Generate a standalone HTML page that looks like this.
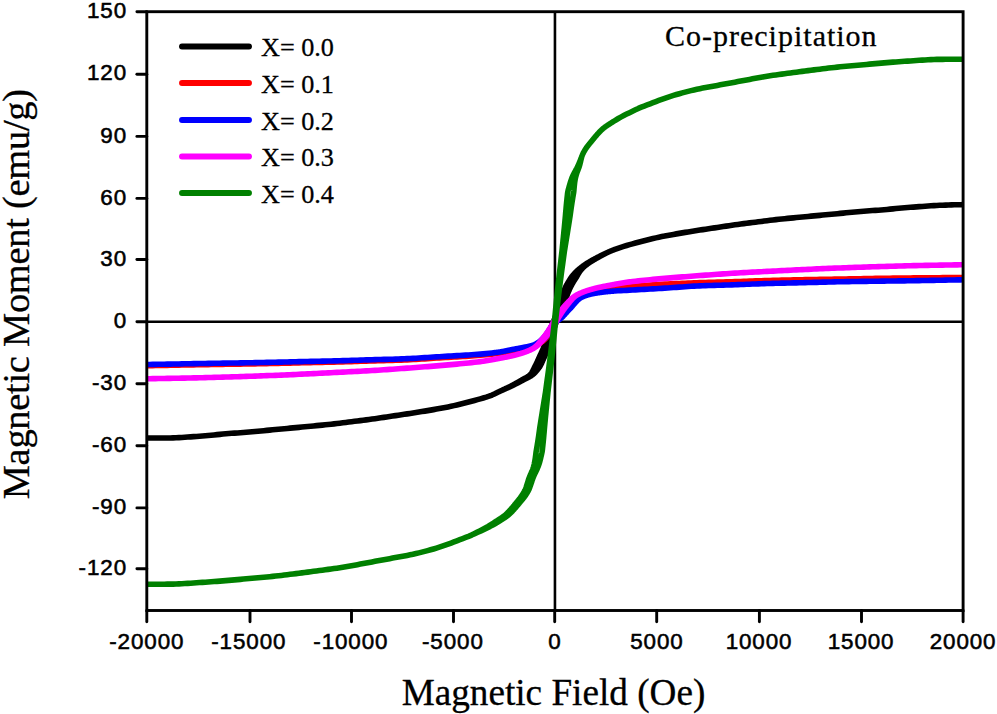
<!DOCTYPE html>
<html><head><meta charset="utf-8"><style>
html,body{margin:0;padding:0;background:#fff;}
body{width:997px;height:714px;overflow:hidden;}
svg{display:block;}
#w{width:997px;height:714px;}
.s{font-family:"Liberation Sans",sans-serif;}
.r{font-family:"Liberation Serif",serif;stroke:#000;stroke-width:0.3px;}
</style></head><body><div id="w">
<svg width="997" height="714" viewBox="0 0 997 714">
<rect width="997" height="714" fill="#fff"/>

<defs><clipPath id="c"><rect x="146.8" y="11.7" width="816.3" height="598.8"/></clipPath></defs>
<g stroke="#000" stroke-width="2.6" fill="none">
<line x1="146.8" y1="321.75" x2="963.1" y2="321.75"/>
<line x1="554.95" y1="11.7" x2="554.95" y2="610.5"/>
</g>
<g clip-path="url(#c)" fill="none" stroke-width="5.6" stroke-linejoin="round" stroke-linecap="round">
<path stroke="#000000" d="M963.15 204.66 L960.22 204.70 L957.30 204.75 L954.37 204.82 L951.45 204.90 L948.52 204.99 L945.59 205.09 L942.67 205.20 L939.74 205.31 L936.82 205.43 L933.89 205.59 L930.96 205.78 L928.04 205.98 L925.11 206.20 L922.19 206.42 L919.26 206.64 L916.33 206.86 L913.41 207.09 L910.48 207.32 L907.56 207.57 L904.63 207.81 L901.70 208.06 L898.78 208.32 L895.85 208.58 L892.92 208.86 L890.00 209.14 L887.07 209.42 L884.15 209.69 L881.22 209.95 L878.29 210.18 L875.37 210.38 L872.44 210.58 L869.52 210.79 L866.59 211.02 L863.66 211.26 L860.74 211.51 L857.81 211.77 L854.89 212.03 L851.96 212.29 L849.03 212.56 L846.11 212.83 L843.18 213.12 L840.26 213.40 L837.33 213.69 L834.40 213.98 L831.48 214.27 L828.55 214.54 L825.63 214.81 L822.70 215.08 L819.77 215.35 L816.85 215.61 L813.92 215.88 L811.00 216.15 L808.07 216.43 L805.14 216.72 L802.22 217.01 L799.29 217.30 L796.37 217.58 L793.44 217.85 L790.51 218.13 L787.59 218.40 L784.66 218.68 L781.73 218.98 L778.81 219.29 L775.88 219.62 L772.96 219.96 L770.03 220.32 L767.10 220.69 L764.18 221.06 L761.25 221.44 L758.33 221.80 L755.40 222.17 L752.47 222.53 L749.55 222.90 L746.62 223.27 L743.70 223.65 L740.77 224.04 L737.84 224.44 L734.92 224.85 L731.99 225.28 L729.07 225.70 L726.14 226.13 L723.21 226.56 L720.29 226.99 L717.36 227.42 L714.44 227.86 L711.51 228.30 L708.58 228.74 L705.66 229.17 L702.73 229.61 L699.81 230.05 L696.88 230.50 L693.95 230.95 L691.03 231.41 L688.10 231.89 L685.18 232.37 L682.25 232.87 L679.32 233.37 L676.40 233.88 L673.47 234.41 L670.54 234.94 L667.62 235.48 L664.69 236.04 L661.77 236.62 L658.84 237.23 L655.91 237.88 L652.99 238.57 L650.06 239.28 L647.14 240.00 L644.21 240.73 L641.28 241.49 L638.36 242.26 L635.43 243.05 L632.51 243.85 L629.58 244.68 L626.65 245.54 L623.73 246.41 L620.80 247.33 L617.88 248.33 L614.95 249.38 L614.70 249.47 L614.45 249.57 L614.20 249.66 L613.95 249.76 L613.70 249.85 L613.45 249.95 L613.20 250.05 L612.95 250.14 L612.70 250.24 L612.45 250.34 L612.20 250.44 L611.95 250.54 L611.70 250.64 L611.45 250.74 L611.20 250.84 L610.95 250.95 L610.70 251.05 L610.45 251.15 L610.20 251.26 L609.95 251.36 L609.70 251.47 L609.45 251.58 L609.20 251.69 L608.95 251.80 L608.69 251.91 L608.43 252.02 L608.17 252.13 L607.92 252.24 L607.66 252.36 L607.40 252.47 L607.14 252.59 L606.89 252.70 L606.63 252.82 L606.37 252.94 L606.11 253.06 L605.85 253.18 L605.60 253.30 L605.34 253.42 L605.08 253.54 L604.82 253.67 L604.56 253.79 L604.31 253.91 L604.05 254.04 L603.79 254.17 L603.53 254.29 L603.27 254.42 L603.01 254.55 L602.76 254.67 L602.50 254.80 L602.24 254.93 L601.98 255.06 L601.72 255.19 L601.46 255.32 L601.20 255.45 L600.94 255.59 L600.69 255.72 L600.43 255.85 L600.17 255.98 L599.91 256.12 L599.65 256.25 L599.39 256.38 L599.13 256.52 L598.87 256.65 L598.61 256.79 L598.36 256.92 L598.10 257.05 L597.84 257.19 L597.58 257.32 L597.32 257.46 L597.06 257.59 L596.80 257.73 L596.54 257.86 L596.28 258.00 L596.02 258.13 L595.77 258.27 L595.51 258.41 L595.25 258.54 L594.99 258.68 L594.73 258.82 L594.47 258.96 L594.21 259.10 L593.95 259.24 L593.69 259.38 L593.43 259.52 L593.17 259.66 L592.91 259.80 L592.65 259.95 L592.39 260.09 L592.13 260.23 L591.87 260.38 L591.61 260.53 L591.36 260.67 L591.10 260.82 L590.84 260.97 L590.58 261.12 L590.32 261.27 L590.06 261.42 L589.80 261.57 L589.53 261.73 L589.27 261.88 L589.01 262.04 L588.75 262.20 L588.49 262.35 L588.23 262.51 L587.97 262.67 L587.71 262.84 L587.45 263.00 L587.19 263.16 L586.93 263.33 L586.67 263.50 L586.41 263.66 L586.14 263.84 L585.88 264.01 L585.62 264.18 L585.36 264.35 L585.10 264.53 L584.84 264.71 L584.57 264.89 L584.31 265.07 L584.05 265.25 L583.79 265.43 L583.53 265.62 L583.26 265.81 L583.00 266.00 L582.74 266.20 L582.47 266.40 L582.21 266.60 L581.94 266.80 L581.66 267.01 L581.38 267.22 L581.10 267.43 L580.81 267.65 L580.53 267.87 L580.25 268.10 L579.96 268.33 L579.68 268.56 L579.39 268.79 L579.11 269.04 L578.82 269.28 L578.53 269.53 L578.25 269.78 L577.96 270.04 L577.67 270.30 L577.38 270.57 L577.09 270.85 L576.79 271.13 L576.50 271.41 L576.21 271.71 L575.91 272.01 L575.62 272.31 L575.32 272.62 L575.02 272.94 L574.72 273.26 L574.43 273.58 L574.13 273.91 L573.83 274.25 L573.52 274.59 L573.22 274.94 L572.92 275.29 L572.62 275.64 L572.31 276.00 L572.01 276.36 L571.70 276.73 L571.45 277.10 L571.20 277.48 L570.95 277.86 L570.70 278.24 L570.45 278.63 L570.20 279.01 L569.95 279.41 L569.70 279.80 L569.45 280.20 L569.20 280.61 L568.95 281.01 L568.70 281.42 L568.45 281.84 L568.20 282.26 L567.95 282.69 L567.70 283.12 L567.45 283.56 L567.20 284.01 L566.95 284.46 L566.70 284.92 L566.45 285.39 L566.20 285.86 L565.95 286.35 L565.70 286.84 L565.45 287.34 L565.20 287.86 L564.95 288.38 L564.70 288.91 L564.45 289.46 L564.20 290.01 L563.95 290.58 L563.70 291.16 L563.45 291.75 L563.22 292.37 L562.99 293.05 L562.77 293.76 L562.54 294.51 L562.32 295.28 L562.09 296.07 L561.87 296.87 L561.65 297.67 L561.42 298.47 L561.20 299.25 L560.98 300.01 L560.75 300.75 L560.52 301.47 L560.30 302.18 L560.07 302.89 L559.84 303.60 L559.62 304.30 L559.39 304.99 L559.16 305.69 L558.94 306.38 L558.71 307.06 L558.48 307.75 L558.26 308.42 L558.03 309.10 L557.80 309.77 L557.57 310.43 L557.34 311.09 L557.12 311.75 L556.89 312.40 L556.66 313.05 L556.43 313.70 L556.20 314.34 L555.97 314.98 L555.75 315.61 L555.52 316.24 L555.29 316.87 L555.06 317.50 L554.83 318.12 L554.60 318.73 L554.37 319.34 L554.14 319.95 L553.91 320.55 L553.68 321.15 L553.45 321.75 L553.18 322.31 L552.91 322.88 L552.64 323.47 L552.37 324.07 L552.10 324.69 L551.83 325.32 L551.56 325.96 L551.29 326.61 L551.02 327.28 L550.74 327.95 L550.47 328.64 L550.20 329.33 L549.92 330.04 L549.65 330.75 L549.38 331.48 L549.10 332.25 L548.82 333.04 L548.55 333.85 L548.27 334.67 L547.99 335.50 L547.71 336.33 L547.44 337.15 L547.16 337.96 L546.88 338.75 L546.61 339.53 L546.33 340.33 L546.05 341.12 L545.78 341.91 L545.50 342.70 L545.23 343.48 L544.95 344.25 L544.67 345.00 L544.40 345.73 L544.13 346.44 L543.85 347.12 L543.58 347.77 L543.31 348.40 L543.04 349.02 L542.77 349.63 L542.50 350.22 L542.23 350.80 L541.96 351.37 L541.70 351.94 L541.45 352.49 L541.20 353.04 L540.95 353.58 L540.70 354.12 L540.45 354.66 L540.20 355.20 L539.95 355.73 L539.70 356.27 L539.45 356.81 L539.20 357.36 L538.95 357.91 L538.70 358.47 L538.45 359.03 L538.20 359.60 L537.95 360.16 L537.70 360.73 L537.45 361.29 L537.20 361.85 L536.95 362.40 L536.70 362.95 L536.45 363.48 L536.20 364.01 L535.95 364.52 L535.70 365.02 L535.45 365.50 L535.20 365.96 L534.95 366.41 L534.71 366.83 L534.52 367.25 L534.34 367.66 L534.15 368.07 L533.96 368.47 L533.77 368.87 L533.58 369.27 L533.39 369.66 L533.19 370.04 L533.00 370.41 L532.80 370.78 L532.61 371.14 L532.41 371.50 L532.21 371.84 L532.01 372.17 L531.81 372.50 L531.61 372.81 L531.40 373.11 L531.20 373.40 L530.99 373.68 L530.78 373.95 L530.57 374.20 L530.35 374.44 L530.14 374.66 L529.92 374.88 L529.70 375.08 L529.48 375.28 L529.26 375.47 L529.04 375.65 L528.81 375.83 L528.59 376.01 L528.36 376.18 L528.14 376.34 L527.91 376.50 L527.69 376.66 L527.45 376.81 L527.21 376.96 L526.97 377.10 L526.73 377.24 L526.49 377.38 L526.25 377.52 L526.01 377.65 L525.77 377.79 L525.53 377.92 L525.29 378.05 L525.05 378.18 L524.80 378.30 L524.56 378.43 L524.32 378.56 L524.08 378.69 L523.84 378.81 L523.60 378.94 L523.35 379.07 L523.11 379.20 L522.87 379.34 L522.63 379.47 L522.39 379.61 L522.15 379.75 L521.91 379.89 L521.67 380.03 L521.43 380.17 L521.19 380.31 L520.95 380.45 L520.71 380.59 L520.47 380.73 L520.22 380.87 L519.98 381.01 L519.74 381.15 L519.50 381.29 L519.26 381.42 L519.02 381.56 L518.78 381.70 L518.54 381.84 L518.30 381.97 L518.06 382.11 L517.82 382.25 L517.58 382.38 L517.33 382.52 L517.09 382.65 L516.85 382.79 L516.61 382.92 L516.37 383.05 L516.13 383.19 L515.89 383.32 L515.65 383.45 L515.41 383.59 L515.16 383.72 L514.92 383.85 L514.68 383.98 L514.44 384.11 L514.20 384.24 L513.96 384.37 L513.72 384.50 L513.48 384.63 L513.23 384.76 L512.99 384.89 L512.75 385.02 L512.51 385.14 L512.27 385.27 L512.03 385.40 L511.78 385.52 L511.54 385.65 L511.30 385.78 L511.06 385.90 L510.82 386.03 L510.58 386.15 L510.33 386.27 L510.09 386.39 L509.85 386.52 L509.61 386.64 L509.37 386.76 L509.13 386.88 L508.88 387.00 L508.64 387.12 L508.40 387.23 L508.16 387.35 L507.91 387.47 L507.67 387.59 L507.43 387.70 L507.19 387.82 L506.95 387.93 L506.70 388.05 L506.46 388.17 L506.22 388.28 L505.98 388.39 L505.73 388.51 L505.49 388.62 L505.25 388.74 L505.01 388.85 L504.76 388.96 L504.52 389.08 L504.28 389.19 L504.04 389.31 L503.79 389.42 L503.55 389.53 L503.31 389.65 L503.07 389.76 L502.82 389.87 L502.58 389.99 L502.34 390.10 L502.10 390.21 L501.86 390.33 L501.61 390.44 L501.37 390.56 L501.13 390.67 L500.89 390.79 L500.64 390.90 L500.40 391.02 L500.16 391.13 L499.92 391.25 L499.67 391.37 L499.43 391.49 L499.19 391.61 L498.95 391.73 L498.70 391.85 L498.45 391.97 L498.20 392.09 L497.95 392.22 L497.70 392.34 L497.45 392.47 L497.20 392.59 L496.95 392.72 L496.70 392.84 L496.45 392.97 L496.20 393.09 L495.95 393.22 L495.70 393.34 L495.45 393.47 L495.20 393.59 L494.95 393.71 L492.02 395.08 L489.10 396.20 L486.17 397.13 L483.25 397.98 L480.32 398.82 L477.39 399.65 L474.47 400.45 L471.54 401.24 L468.62 402.01 L465.69 402.77 L462.76 403.50 L459.84 404.22 L456.91 404.93 L453.99 405.62 L451.06 406.27 L448.13 406.88 L445.21 407.46 L442.28 408.02 L439.36 408.56 L436.43 409.09 L433.50 409.62 L430.58 410.13 L427.65 410.63 L424.72 411.13 L421.80 411.61 L418.87 412.09 L415.95 412.55 L413.02 413.00 L410.09 413.45 L407.17 413.89 L404.24 414.33 L401.32 414.76 L398.39 415.20 L395.46 415.64 L392.54 416.08 L389.61 416.51 L386.69 416.94 L383.76 417.37 L380.83 417.80 L377.91 418.22 L374.98 418.65 L372.06 419.06 L369.13 419.46 L366.20 419.85 L363.28 420.23 L360.35 420.60 L357.43 420.97 L354.50 421.33 L351.57 421.70 L348.65 422.06 L345.72 422.44 L342.80 422.81 L339.87 423.18 L336.94 423.54 L334.02 423.88 L331.09 424.21 L328.17 424.52 L325.24 424.82 L322.31 425.10 L319.39 425.37 L316.46 425.65 L313.53 425.92 L310.61 426.20 L307.68 426.49 L304.76 426.78 L301.83 427.07 L298.90 427.35 L295.98 427.62 L293.05 427.89 L290.13 428.15 L287.20 428.42 L284.27 428.69 L281.35 428.96 L278.42 429.23 L275.50 429.52 L272.57 429.81 L269.64 430.10 L266.72 430.38 L263.79 430.67 L260.87 430.94 L257.94 431.21 L255.01 431.47 L252.09 431.73 L249.16 431.99 L246.24 432.24 L243.31 432.48 L240.38 432.71 L237.46 432.92 L234.53 433.12 L231.61 433.32 L228.68 433.55 L225.75 433.81 L222.83 434.08 L219.90 434.36 L216.98 434.64 L214.05 434.92 L211.12 435.18 L208.20 435.44 L205.27 435.69 L202.34 435.95 L199.42 436.19 L196.49 436.43 L193.57 436.65 L190.64 436.86 L187.71 437.06 L184.79 437.28 L181.86 437.48 L178.94 437.67 L176.01 437.82 L173.08 437.92 L170.16 437.96 L167.23 437.98 L164.31 437.99 L161.38 438.01 L158.45 438.02 L155.53 438.03 L152.60 438.04 L149.68 438.05 L146.75 438.05 L146.75 438.05 L149.68 438.05 L152.60 438.04 L155.53 438.03 L158.45 438.02 L161.38 438.01 L164.31 437.99 L167.23 437.98 L170.16 437.96 L173.08 437.92 L176.01 437.82 L178.94 437.67 L181.86 437.48 L184.79 437.28 L187.71 437.06 L190.64 436.86 L193.57 436.65 L196.49 436.43 L199.42 436.19 L202.34 435.95 L205.27 435.69 L208.20 435.44 L211.12 435.18 L214.05 434.92 L216.98 434.64 L219.90 434.36 L222.83 434.08 L225.75 433.81 L228.68 433.55 L231.61 433.32 L234.53 433.12 L237.46 432.92 L240.38 432.71 L243.31 432.48 L246.24 432.24 L249.16 431.99 L252.09 431.73 L255.01 431.47 L257.94 431.21 L260.87 430.94 L263.79 430.67 L266.72 430.38 L269.64 430.10 L272.57 429.81 L275.50 429.52 L278.42 429.23 L281.35 428.96 L284.27 428.69 L287.20 428.42 L290.13 428.15 L293.05 427.89 L295.98 427.62 L298.90 427.35 L301.83 427.07 L304.76 426.78 L307.68 426.49 L310.61 426.20 L313.53 425.92 L316.46 425.65 L319.39 425.37 L322.31 425.10 L325.24 424.82 L328.17 424.52 L331.09 424.21 L334.02 423.88 L336.94 423.54 L339.87 423.18 L342.80 422.81 L345.72 422.44 L348.65 422.06 L351.57 421.70 L354.50 421.33 L357.43 420.97 L360.35 420.60 L363.28 420.23 L366.20 419.85 L369.13 419.46 L372.06 419.06 L374.98 418.65 L377.91 418.22 L380.83 417.80 L383.76 417.37 L386.69 416.94 L389.61 416.51 L392.54 416.08 L395.46 415.64 L398.39 415.20 L401.32 414.76 L404.24 414.33 L407.17 413.89 L410.09 413.45 L413.02 413.00 L415.95 412.55 L418.87 412.09 L421.80 411.61 L424.72 411.13 L427.65 410.63 L430.58 410.13 L433.50 409.62 L436.43 409.09 L439.36 408.56 L442.28 408.02 L445.21 407.46 L448.13 406.88 L451.06 406.27 L453.99 405.62 L456.91 404.93 L459.84 404.22 L462.76 403.50 L465.69 402.77 L468.62 402.01 L471.54 401.24 L474.47 400.45 L477.39 399.65 L480.32 398.82 L483.25 397.98 L486.17 397.13 L489.10 396.20 L492.02 395.08 L494.95 393.71 L495.20 393.59 L495.45 393.47 L495.70 393.34 L495.95 393.22 L496.20 393.09 L496.45 392.97 L496.70 392.84 L496.95 392.72 L497.20 392.59 L497.45 392.47 L497.70 392.34 L497.95 392.22 L498.20 392.09 L498.45 391.97 L498.70 391.85 L498.95 391.73 L499.21 391.61 L499.47 391.49 L499.73 391.37 L499.98 391.25 L500.24 391.13 L500.50 391.02 L500.76 390.90 L501.01 390.79 L501.27 390.67 L501.53 390.56 L501.79 390.44 L502.04 390.33 L502.30 390.21 L502.56 390.10 L502.82 389.99 L503.08 389.87 L503.33 389.76 L503.59 389.65 L503.85 389.53 L504.11 389.42 L504.36 389.31 L504.62 389.19 L504.88 389.08 L505.14 388.96 L505.39 388.85 L505.65 388.74 L505.91 388.62 L506.17 388.51 L506.42 388.39 L506.68 388.28 L506.94 388.17 L507.20 388.05 L507.45 387.93 L507.71 387.82 L507.97 387.70 L508.23 387.59 L508.49 387.47 L508.74 387.35 L509.00 387.23 L509.26 387.12 L509.52 387.00 L509.77 386.88 L510.03 386.76 L510.29 386.64 L510.55 386.52 L510.81 386.39 L511.07 386.27 L511.32 386.15 L511.58 386.03 L511.84 385.90 L512.10 385.78 L512.36 385.65 L512.62 385.52 L512.87 385.40 L513.13 385.27 L513.39 385.14 L513.65 385.02 L513.91 384.89 L514.17 384.76 L514.42 384.63 L514.68 384.50 L514.94 384.37 L515.20 384.24 L515.46 384.11 L515.72 383.98 L515.98 383.85 L516.24 383.72 L516.49 383.59 L516.75 383.45 L517.01 383.32 L517.27 383.19 L517.53 383.05 L517.79 382.92 L518.05 382.79 L518.31 382.65 L518.57 382.52 L518.82 382.38 L519.08 382.25 L519.34 382.11 L519.60 381.97 L519.86 381.84 L520.12 381.70 L520.38 381.56 L520.64 381.42 L520.90 381.29 L521.16 381.15 L521.42 381.01 L521.68 380.87 L521.93 380.73 L522.19 380.59 L522.45 380.45 L522.71 380.31 L522.97 380.17 L523.23 380.03 L523.49 379.89 L523.75 379.75 L524.01 379.61 L524.27 379.47 L524.53 379.34 L524.79 379.20 L525.05 379.07 L525.30 378.94 L525.56 378.81 L525.82 378.69 L526.08 378.56 L526.34 378.43 L526.60 378.30 L526.85 378.18 L527.11 378.05 L527.37 377.92 L527.63 377.79 L527.89 377.65 L528.15 377.52 L528.41 377.38 L528.67 377.24 L528.93 377.10 L529.19 376.96 L529.45 376.81 L529.71 376.66 L529.99 376.50 L530.26 376.34 L530.54 376.18 L530.81 376.01 L531.09 375.83 L531.36 375.65 L531.64 375.47 L531.92 375.28 L532.20 375.08 L532.48 374.88 L532.76 374.66 L533.05 374.44 L533.33 374.20 L533.62 373.95 L533.91 373.68 L534.20 373.40 L534.50 373.11 L534.79 372.81 L535.09 372.50 L535.39 372.17 L535.69 371.84 L535.99 371.50 L536.29 371.14 L536.60 370.78 L536.90 370.41 L537.21 370.04 L537.51 369.66 L537.82 369.27 L538.13 368.87 L538.44 368.47 L538.75 368.07 L539.06 367.66 L539.38 367.25 L539.69 366.83 L539.95 366.41 L540.20 365.96 L540.45 365.50 L540.70 365.02 L540.95 364.52 L541.20 364.01 L541.45 363.48 L541.70 362.95 L541.95 362.40 L542.20 361.85 L542.45 361.29 L542.70 360.73 L542.95 360.16 L543.20 359.60 L543.45 359.03 L543.70 358.47 L543.95 357.91 L544.20 357.36 L544.45 356.81 L544.70 356.27 L544.95 355.73 L545.20 355.20 L545.45 354.66 L545.70 354.12 L545.95 353.58 L546.20 353.04 L546.45 352.49 L546.70 351.94 L546.94 351.37 L547.17 350.80 L547.40 350.22 L547.63 349.63 L547.86 349.02 L548.09 348.40 L548.32 347.77 L548.55 347.12 L548.77 346.44 L549.00 345.73 L549.23 345.00 L549.45 344.25 L549.67 343.48 L549.90 342.70 L550.12 341.91 L550.35 341.12 L550.57 340.33 L550.79 339.53 L551.02 338.75 L551.24 337.96 L551.46 337.15 L551.69 336.33 L551.91 335.50 L552.13 334.67 L552.35 333.85 L552.58 333.04 L552.80 332.25 L553.02 331.48 L553.25 330.75 L553.48 330.04 L553.70 329.33 L553.93 328.64 L554.16 327.95 L554.38 327.28 L554.61 326.61 L554.84 325.96 L555.07 325.32 L555.30 324.69 L555.53 324.07 L555.76 323.47 L555.99 322.88 L556.22 322.31 L556.45 321.75 L556.72 321.15 L556.99 320.55 L557.26 319.95 L557.53 319.34 L557.80 318.73 L558.07 318.12 L558.34 317.50 L558.61 316.87 L558.88 316.24 L559.15 315.61 L559.43 314.98 L559.70 314.34 L559.97 313.70 L560.24 313.05 L560.51 312.40 L560.78 311.75 L561.06 311.09 L561.33 310.43 L561.60 309.77 L561.87 309.10 L562.14 308.42 L562.42 307.75 L562.69 307.06 L562.96 306.38 L563.24 305.69 L563.51 304.99 L563.78 304.30 L564.06 303.60 L564.33 302.89 L564.60 302.18 L564.88 301.47 L565.15 300.75 L565.42 300.01 L565.70 299.25 L565.98 298.47 L566.25 297.67 L566.53 296.87 L566.81 296.07 L567.08 295.28 L567.36 294.51 L567.63 293.76 L567.91 293.05 L568.18 292.37 L568.45 291.75 L568.70 291.16 L568.95 290.58 L569.20 290.01 L569.45 289.46 L569.70 288.91 L569.95 288.38 L570.20 287.86 L570.45 287.34 L570.70 286.84 L570.95 286.35 L571.20 285.86 L571.45 285.39 L571.70 284.92 L571.95 284.46 L572.20 284.01 L572.45 283.56 L572.70 283.12 L572.95 282.69 L573.20 282.26 L573.45 281.84 L573.70 281.42 L573.95 281.01 L574.20 280.61 L574.45 280.20 L574.70 279.80 L574.95 279.41 L575.20 279.01 L575.45 278.63 L575.70 278.24 L575.95 277.86 L576.20 277.48 L576.45 277.10 L576.70 276.73 L576.89 276.36 L577.09 276.00 L577.28 275.64 L577.48 275.29 L577.68 274.94 L577.88 274.59 L578.07 274.25 L578.27 273.91 L578.47 273.58 L578.68 273.26 L578.88 272.94 L579.08 272.62 L579.28 272.31 L579.49 272.01 L579.69 271.71 L579.90 271.41 L580.11 271.13 L580.31 270.85 L580.52 270.57 L580.73 270.30 L580.94 270.04 L581.15 269.78 L581.37 269.53 L581.58 269.28 L581.79 269.04 L582.01 268.79 L582.22 268.56 L582.44 268.33 L582.65 268.10 L582.87 267.87 L583.09 267.65 L583.30 267.43 L583.52 267.22 L583.74 267.01 L583.96 266.80 L584.19 266.60 L584.43 266.40 L584.66 266.20 L584.90 266.00 L585.14 265.81 L585.37 265.62 L585.61 265.43 L585.85 265.25 L586.09 265.07 L586.33 264.89 L586.56 264.71 L586.80 264.53 L587.04 264.35 L587.28 264.18 L587.52 264.01 L587.76 263.84 L587.99 263.66 L588.23 263.50 L588.47 263.33 L588.71 263.16 L588.95 263.00 L589.19 262.84 L589.43 262.67 L589.67 262.51 L589.91 262.35 L590.15 262.20 L590.39 262.04 L590.63 261.88 L590.87 261.73 L591.10 261.57 L591.34 261.42 L591.58 261.27 L591.82 261.12 L592.06 260.97 L592.30 260.82 L592.54 260.67 L592.79 260.53 L593.03 260.38 L593.27 260.23 L593.51 260.09 L593.75 259.95 L593.99 259.80 L594.23 259.66 L594.47 259.52 L594.71 259.38 L594.95 259.24 L595.19 259.10 L595.43 258.96 L595.67 258.82 L595.91 258.68 L596.15 258.54 L596.39 258.41 L596.63 258.27 L596.88 258.13 L597.12 258.00 L597.36 257.86 L597.60 257.73 L597.84 257.59 L598.08 257.46 L598.32 257.32 L598.56 257.19 L598.80 257.05 L599.04 256.92 L599.29 256.79 L599.53 256.65 L599.77 256.52 L600.01 256.38 L600.25 256.25 L600.49 256.12 L600.73 255.98 L600.97 255.85 L601.21 255.72 L601.46 255.59 L601.70 255.45 L601.94 255.32 L602.18 255.19 L602.42 255.06 L602.66 254.93 L602.90 254.80 L603.14 254.67 L603.39 254.55 L603.63 254.42 L603.87 254.29 L604.11 254.17 L604.35 254.04 L604.59 253.91 L604.84 253.79 L605.08 253.67 L605.32 253.54 L605.56 253.42 L605.80 253.30 L606.05 253.18 L606.29 253.06 L606.53 252.94 L606.77 252.82 L607.01 252.70 L607.26 252.59 L607.50 252.47 L607.74 252.36 L607.98 252.24 L608.23 252.13 L608.47 252.02 L608.71 251.91 L608.95 251.80 L609.20 251.69 L609.45 251.58 L609.70 251.47 L609.95 251.36 L610.20 251.26 L610.45 251.15 L610.70 251.05 L610.95 250.95 L611.20 250.84 L611.45 250.74 L611.70 250.64 L611.95 250.54 L612.20 250.44 L612.45 250.34 L612.70 250.24 L612.95 250.14 L613.20 250.05 L613.45 249.95 L613.70 249.85 L613.95 249.76 L614.20 249.66 L614.45 249.57 L614.70 249.47 L614.95 249.38 L617.88 248.33 L620.80 247.33 L623.73 246.41 L626.65 245.54 L629.58 244.68 L632.51 243.85 L635.43 243.05 L638.36 242.26 L641.28 241.49 L644.21 240.73 L647.14 240.00 L650.06 239.28 L652.99 238.57 L655.91 237.88 L658.84 237.23 L661.77 236.62 L664.69 236.04 L667.62 235.48 L670.54 234.94 L673.47 234.41 L676.40 233.88 L679.32 233.37 L682.25 232.87 L685.18 232.37 L688.10 231.89 L691.03 231.41 L693.95 230.95 L696.88 230.50 L699.81 230.05 L702.73 229.61 L705.66 229.17 L708.58 228.74 L711.51 228.30 L714.44 227.86 L717.36 227.42 L720.29 226.99 L723.21 226.56 L726.14 226.13 L729.07 225.70 L731.99 225.28 L734.92 224.85 L737.84 224.44 L740.77 224.04 L743.70 223.65 L746.62 223.27 L749.55 222.90 L752.47 222.53 L755.40 222.17 L758.33 221.80 L761.25 221.44 L764.18 221.06 L767.10 220.69 L770.03 220.32 L772.96 219.96 L775.88 219.62 L778.81 219.29 L781.73 218.98 L784.66 218.68 L787.59 218.40 L790.51 218.13 L793.44 217.85 L796.37 217.58 L799.29 217.30 L802.22 217.01 L805.14 216.72 L808.07 216.43 L811.00 216.15 L813.92 215.88 L816.85 215.61 L819.77 215.35 L822.70 215.08 L825.63 214.81 L828.55 214.54 L831.48 214.27 L834.40 213.98 L837.33 213.69 L840.26 213.40 L843.18 213.12 L846.11 212.83 L849.03 212.56 L851.96 212.29 L854.89 212.03 L857.81 211.77 L860.74 211.51 L863.66 211.26 L866.59 211.02 L869.52 210.79 L872.44 210.58 L875.37 210.38 L878.29 210.18 L881.22 209.95 L884.15 209.69 L887.07 209.42 L890.00 209.14 L892.92 208.86 L895.85 208.58 L898.78 208.32 L901.70 208.06 L904.63 207.81 L907.56 207.57 L910.48 207.32 L913.41 207.09 L916.33 206.86 L919.26 206.64 L922.19 206.42 L925.11 206.20 L928.04 205.98 L930.96 205.78 L933.89 205.59 L936.82 205.43 L939.74 205.31 L942.67 205.20 L945.59 205.09 L948.52 204.99 L951.45 204.90 L954.37 204.82 L957.30 204.75 L960.22 204.70 L963.15 204.66"/>
<path stroke="#ff0000" d="M963.15 277.56 L960.22 277.57 L957.30 277.58 L954.37 277.60 L951.45 277.61 L948.52 277.63 L945.59 277.65 L942.67 277.67 L939.74 277.69 L936.82 277.71 L933.89 277.73 L930.96 277.76 L928.04 277.78 L925.11 277.81 L922.19 277.83 L919.26 277.86 L916.33 277.89 L913.41 277.92 L910.48 277.94 L907.56 277.97 L904.63 278.01 L901.70 278.04 L898.78 278.08 L895.85 278.11 L892.92 278.15 L890.00 278.20 L887.07 278.24 L884.15 278.28 L881.22 278.33 L878.29 278.38 L875.37 278.42 L872.44 278.47 L869.52 278.52 L866.59 278.57 L863.66 278.63 L860.74 278.68 L857.81 278.73 L854.89 278.78 L851.96 278.84 L849.03 278.89 L846.11 278.94 L843.18 278.99 L840.26 279.04 L837.33 279.10 L834.40 279.15 L831.48 279.20 L828.55 279.25 L825.63 279.30 L822.70 279.35 L819.77 279.40 L816.85 279.46 L813.92 279.51 L811.00 279.56 L808.07 279.62 L805.14 279.67 L802.22 279.73 L799.29 279.79 L796.37 279.85 L793.44 279.91 L790.51 279.97 L787.59 280.03 L784.66 280.09 L781.73 280.16 L778.81 280.23 L775.88 280.30 L772.96 280.37 L770.03 280.45 L767.10 280.53 L764.18 280.62 L761.25 280.71 L758.33 280.81 L755.40 280.92 L752.47 281.03 L749.55 281.14 L746.62 281.24 L743.70 281.35 L740.77 281.46 L737.84 281.56 L734.92 281.65 L731.99 281.74 L729.07 281.82 L726.14 281.91 L723.21 281.98 L720.29 282.06 L717.36 282.14 L714.44 282.22 L711.51 282.30 L708.58 282.38 L705.66 282.47 L702.73 282.56 L699.81 282.65 L696.88 282.76 L693.95 282.86 L691.03 282.97 L688.10 283.09 L685.18 283.21 L682.25 283.33 L679.32 283.45 L676.40 283.59 L673.47 283.72 L670.54 283.86 L667.62 284.01 L664.69 284.16 L661.77 284.32 L658.84 284.50 L655.91 284.68 L652.99 284.87 L650.06 285.06 L647.14 285.27 L644.21 285.48 L641.28 285.69 L638.36 285.91 L635.43 286.13 L632.51 286.35 L629.58 286.58 L626.65 286.80 L623.73 287.03 L620.80 287.26 L617.88 287.50 L614.95 287.76 L614.70 287.78 L614.45 287.81 L614.20 287.83 L613.95 287.85 L613.70 287.88 L613.45 287.90 L613.20 287.92 L612.95 287.95 L612.70 287.97 L612.45 288.00 L612.20 288.02 L611.95 288.05 L611.70 288.07 L611.45 288.10 L611.20 288.12 L610.95 288.15 L610.70 288.17 L610.45 288.20 L610.20 288.22 L609.95 288.25 L609.70 288.28 L609.45 288.30 L609.20 288.33 L608.95 288.35 L608.70 288.38 L608.45 288.41 L608.20 288.43 L607.95 288.46 L607.70 288.49 L607.45 288.51 L607.20 288.54 L606.95 288.57 L606.70 288.59 L606.45 288.62 L606.20 288.65 L605.95 288.67 L605.70 288.70 L605.45 288.73 L605.20 288.76 L604.95 288.78 L604.70 288.81 L604.45 288.84 L604.20 288.87 L603.95 288.90 L603.70 288.92 L603.45 288.95 L603.20 288.98 L602.95 289.01 L602.70 289.04 L602.45 289.07 L602.20 289.10 L601.95 289.13 L601.70 289.16 L601.45 289.20 L601.20 289.23 L600.95 289.26 L600.70 289.29 L600.45 289.33 L600.20 289.36 L599.95 289.39 L599.70 289.43 L599.45 289.46 L599.20 289.50 L598.95 289.53 L598.70 289.57 L598.45 289.60 L598.20 289.64 L597.95 289.68 L597.70 289.72 L597.45 289.75 L597.20 289.79 L596.95 289.83 L596.70 289.87 L596.45 289.91 L596.20 289.96 L595.95 290.00 L595.70 290.04 L595.45 290.08 L595.20 290.13 L594.95 290.17 L594.70 290.22 L594.45 290.26 L594.20 290.31 L593.95 290.35 L593.70 290.40 L593.45 290.45 L593.20 290.50 L592.95 290.55 L592.70 290.60 L592.45 290.65 L592.20 290.71 L591.95 290.76 L591.70 290.82 L591.45 290.88 L591.20 290.94 L590.95 291.00 L590.70 291.06 L590.45 291.12 L590.20 291.19 L589.95 291.25 L589.70 291.32 L589.45 291.39 L589.20 291.46 L588.95 291.54 L588.70 291.61 L588.45 291.69 L588.20 291.76 L587.94 291.84 L587.69 291.92 L587.43 292.00 L587.18 292.09 L586.92 292.17 L586.67 292.26 L586.41 292.35 L586.15 292.44 L585.90 292.53 L585.64 292.62 L585.39 292.72 L585.13 292.82 L584.87 292.91 L584.62 293.01 L584.36 293.12 L584.10 293.22 L583.85 293.32 L583.59 293.43 L583.33 293.54 L583.07 293.65 L582.82 293.76 L582.56 293.88 L582.30 293.99 L582.04 294.11 L581.78 294.23 L581.53 294.35 L581.27 294.47 L581.01 294.60 L580.75 294.72 L580.49 294.85 L580.23 294.98 L579.98 295.12 L579.72 295.25 L579.46 295.39 L579.20 295.54 L578.94 295.70 L578.68 295.86 L578.41 296.04 L578.15 296.22 L577.89 296.42 L577.63 296.62 L577.36 296.82 L577.10 297.04 L576.83 297.26 L576.57 297.49 L576.30 297.72 L576.04 297.96 L575.77 298.21 L575.50 298.46 L575.24 298.72 L574.97 298.98 L574.70 299.25 L574.43 299.52 L574.16 299.79 L573.90 300.07 L573.63 300.35 L573.36 300.64 L573.09 300.93 L572.82 301.22 L572.55 301.51 L572.28 301.81 L572.01 302.11 L571.74 302.41 L571.47 302.71 L571.20 303.01 L570.93 303.31 L570.66 303.61 L570.39 303.92 L570.12 304.22 L569.85 304.52 L569.58 304.82 L569.31 305.13 L569.04 305.43 L568.77 305.72 L568.50 306.02 L568.23 306.32 L567.96 306.61 L567.70 306.90 L567.45 307.19 L567.20 307.47 L566.95 307.75 L566.70 308.03 L566.45 308.32 L566.20 308.61 L565.95 308.90 L565.70 309.20 L565.45 309.50 L565.20 309.80 L564.95 310.11 L564.70 310.42 L564.45 310.73 L564.20 311.04 L563.95 311.35 L563.70 311.66 L563.45 311.98 L563.20 312.29 L562.95 312.60 L562.70 312.91 L562.45 313.22 L562.20 313.53 L561.95 313.84 L561.70 314.15 L561.45 314.45 L561.20 314.75 L560.95 315.04 L560.70 315.34 L560.45 315.62 L560.20 315.91 L559.95 316.19 L559.70 316.46 L559.45 316.73 L559.20 316.99 L558.95 317.25 L558.70 317.50 L558.45 317.75 L558.20 318.00 L557.95 318.24 L557.70 318.48 L557.45 318.72 L557.20 318.95 L556.95 319.18 L556.70 319.41 L556.45 319.64 L556.20 319.86 L555.95 320.08 L555.70 320.30 L555.45 320.52 L555.20 320.73 L554.95 320.94 L554.70 321.15 L554.45 321.35 L554.20 321.55 L553.95 321.75 L553.70 322.30 L553.45 322.85 L553.20 323.40 L552.95 323.94 L552.70 324.47 L552.45 325.00 L552.20 325.51 L551.95 326.02 L551.70 326.52 L551.45 327.02 L551.20 327.50 L550.95 327.97 L550.70 328.43 L550.45 328.88 L550.20 329.32 L549.95 329.75 L549.70 330.17 L549.45 330.58 L549.20 330.99 L548.95 331.40 L548.70 331.80 L548.45 332.20 L548.20 332.59 L547.95 332.98 L547.70 333.36 L547.45 333.74 L547.20 334.11 L546.95 334.48 L546.70 334.84 L546.45 335.19 L546.20 335.54 L545.95 335.88 L545.70 336.21 L545.45 336.54 L545.21 336.86 L544.98 337.17 L544.75 337.47 L544.52 337.77 L544.29 338.05 L544.06 338.33 L543.82 338.60 L543.59 338.87 L543.36 339.13 L543.13 339.38 L542.89 339.64 L542.66 339.88 L542.42 340.12 L542.19 340.36 L541.96 340.60 L541.72 340.83 L541.49 341.05 L541.25 341.27 L541.02 341.49 L540.78 341.70 L540.54 341.90 L540.31 342.11 L540.07 342.30 L539.83 342.50 L539.60 342.68 L539.36 342.87 L539.12 343.04 L538.88 343.22 L538.64 343.39 L538.40 343.55 L538.16 343.71 L537.92 343.87 L537.69 344.03 L537.45 344.18 L537.21 344.33 L536.97 344.48 L536.73 344.63 L536.49 344.78 L536.24 344.92 L536.00 345.06 L535.76 345.19 L535.52 345.32 L535.28 345.45 L535.04 345.57 L534.80 345.69 L534.55 345.81 L534.31 345.91 L534.07 346.02 L533.82 346.12 L533.58 346.21 L533.34 346.30 L533.09 346.38 L532.85 346.46 L532.60 346.54 L532.36 346.62 L532.11 346.69 L531.87 346.76 L531.62 346.83 L531.38 346.90 L531.13 346.97 L530.89 347.03 L530.64 347.10 L530.39 347.16 L530.15 347.22 L529.90 347.28 L529.66 347.34 L529.41 347.40 L529.16 347.46 L528.92 347.51 L528.67 347.56 L528.42 347.62 L528.18 347.67 L527.93 347.72 L527.68 347.77 L527.44 347.82 L527.19 347.87 L526.94 347.92 L526.70 347.97 L526.45 348.02 L526.20 348.07 L525.96 348.11 L525.71 348.16 L525.46 348.21 L525.22 348.25 L524.97 348.30 L524.72 348.35 L524.48 348.39 L524.23 348.44 L523.98 348.49 L523.74 348.54 L523.49 348.58 L523.24 348.63 L523.00 348.68 L522.75 348.73 L522.50 348.78 L522.26 348.83 L522.01 348.88 L521.76 348.93 L521.52 348.98 L521.27 349.03 L521.02 349.08 L520.78 349.13 L520.53 349.18 L520.28 349.23 L520.03 349.27 L519.79 349.32 L519.54 349.37 L519.29 349.42 L519.05 349.46 L518.80 349.51 L518.55 349.56 L518.31 349.60 L518.06 349.65 L517.81 349.70 L517.57 349.74 L517.32 349.79 L517.07 349.83 L516.83 349.88 L516.58 349.93 L516.33 349.97 L516.08 350.02 L515.84 350.06 L515.59 350.11 L515.34 350.15 L515.10 350.20 L514.85 350.24 L514.60 350.29 L514.36 350.34 L514.11 350.38 L513.86 350.43 L513.61 350.47 L513.37 350.52 L513.12 350.56 L512.87 350.61 L512.63 350.66 L512.38 350.70 L512.13 350.75 L511.89 350.80 L511.64 350.85 L511.39 350.89 L511.15 350.94 L510.90 350.99 L510.65 351.04 L510.41 351.09 L510.16 351.14 L509.91 351.19 L509.67 351.24 L509.42 351.29 L509.17 351.34 L508.93 351.39 L508.68 351.45 L508.43 351.50 L508.19 351.55 L507.94 351.60 L507.69 351.66 L507.45 351.71 L507.20 351.76 L506.95 351.82 L506.70 351.87 L506.45 351.93 L506.20 351.98 L505.95 352.03 L505.70 352.08 L505.45 352.14 L505.20 352.19 L504.95 352.24 L504.70 352.29 L504.45 352.34 L504.20 352.39 L503.95 352.45 L503.70 352.50 L503.45 352.54 L503.20 352.59 L502.95 352.64 L502.70 352.69 L502.45 352.73 L502.20 352.78 L501.95 352.83 L501.70 352.87 L501.45 352.91 L501.20 352.95 L500.95 353.00 L500.70 353.04 L500.45 353.08 L500.20 353.11 L499.95 353.15 L499.70 353.19 L499.45 353.22 L499.20 353.26 L498.95 353.29 L498.70 353.33 L498.45 353.36 L498.20 353.40 L497.95 353.43 L497.70 353.47 L497.45 353.50 L497.20 353.53 L496.95 353.57 L496.70 353.60 L496.45 353.63 L496.20 353.66 L495.95 353.70 L495.70 353.73 L495.45 353.76 L495.20 353.79 L494.95 353.82 L492.02 354.18 L489.10 354.50 L486.17 354.79 L483.25 355.07 L480.32 355.32 L477.39 355.55 L474.47 355.77 L471.54 355.98 L468.62 356.17 L465.69 356.35 L462.76 356.53 L459.84 356.70 L456.91 356.86 L453.99 357.03 L451.06 357.19 L448.13 357.36 L445.21 357.53 L442.28 357.71 L439.36 357.90 L436.43 358.08 L433.50 358.27 L430.58 358.46 L427.65 358.65 L424.72 358.84 L421.80 359.02 L418.87 359.20 L415.95 359.38 L413.02 359.54 L410.09 359.70 L407.17 359.84 L404.24 359.98 L401.32 360.10 L398.39 360.21 L395.46 360.30 L392.54 360.39 L389.61 360.47 L386.69 360.54 L383.76 360.61 L380.83 360.69 L377.91 360.77 L374.98 360.85 L372.06 360.94 L369.13 361.03 L366.20 361.12 L363.28 361.22 L360.35 361.32 L357.43 361.41 L354.50 361.51 L351.57 361.61 L348.65 361.70 L345.72 361.79 L342.80 361.87 L339.87 361.95 L336.94 362.03 L334.02 362.10 L331.09 362.17 L328.17 362.24 L325.24 362.30 L322.31 362.37 L319.39 362.43 L316.46 362.49 L313.53 362.55 L310.61 362.62 L307.68 362.68 L304.76 362.74 L301.83 362.81 L298.90 362.87 L295.98 362.94 L293.05 363.01 L290.13 363.08 L287.20 363.16 L284.27 363.23 L281.35 363.30 L278.42 363.37 L275.50 363.43 L272.57 363.50 L269.64 363.56 L266.72 363.61 L263.79 363.67 L260.87 363.73 L257.94 363.78 L255.01 363.83 L252.09 363.88 L249.16 363.94 L246.24 363.99 L243.31 364.03 L240.38 364.08 L237.46 364.13 L234.53 364.18 L231.61 364.23 L228.68 364.27 L225.75 364.32 L222.83 364.37 L219.90 364.41 L216.98 364.46 L214.05 364.51 L211.12 364.56 L208.20 364.61 L205.27 364.66 L202.34 364.71 L199.42 364.76 L196.49 364.81 L193.57 364.86 L190.64 364.92 L187.71 364.97 L184.79 365.02 L181.86 365.07 L178.94 365.13 L176.01 365.18 L173.08 365.23 L170.16 365.29 L167.23 365.34 L164.31 365.39 L161.38 365.45 L158.45 365.50 L155.53 365.55 L152.60 365.61 L149.68 365.66 L146.75 365.72 L146.75 365.72 L149.68 365.66 L152.60 365.61 L155.53 365.55 L158.45 365.50 L161.38 365.45 L164.31 365.39 L167.23 365.34 L170.16 365.29 L173.08 365.23 L176.01 365.18 L178.94 365.13 L181.86 365.07 L184.79 365.02 L187.71 364.97 L190.64 364.92 L193.57 364.86 L196.49 364.81 L199.42 364.76 L202.34 364.71 L205.27 364.66 L208.20 364.61 L211.12 364.56 L214.05 364.51 L216.98 364.46 L219.90 364.41 L222.83 364.37 L225.75 364.32 L228.68 364.27 L231.61 364.23 L234.53 364.18 L237.46 364.13 L240.38 364.08 L243.31 364.03 L246.24 363.99 L249.16 363.94 L252.09 363.88 L255.01 363.83 L257.94 363.78 L260.87 363.73 L263.79 363.67 L266.72 363.61 L269.64 363.56 L272.57 363.50 L275.50 363.43 L278.42 363.37 L281.35 363.30 L284.27 363.23 L287.20 363.16 L290.13 363.08 L293.05 363.01 L295.98 362.94 L298.90 362.87 L301.83 362.81 L304.76 362.74 L307.68 362.68 L310.61 362.62 L313.53 362.55 L316.46 362.49 L319.39 362.43 L322.31 362.37 L325.24 362.30 L328.17 362.24 L331.09 362.17 L334.02 362.10 L336.94 362.03 L339.87 361.95 L342.80 361.87 L345.72 361.79 L348.65 361.70 L351.57 361.61 L354.50 361.51 L357.43 361.41 L360.35 361.32 L363.28 361.22 L366.20 361.12 L369.13 361.03 L372.06 360.94 L374.98 360.85 L377.91 360.77 L380.83 360.69 L383.76 360.61 L386.69 360.54 L389.61 360.47 L392.54 360.39 L395.46 360.30 L398.39 360.21 L401.32 360.10 L404.24 359.98 L407.17 359.84 L410.09 359.70 L413.02 359.54 L415.95 359.38 L418.87 359.20 L421.80 359.02 L424.72 358.84 L427.65 358.65 L430.58 358.46 L433.50 358.27 L436.43 358.08 L439.36 357.90 L442.28 357.71 L445.21 357.53 L448.13 357.36 L451.06 357.19 L453.99 357.03 L456.91 356.86 L459.84 356.70 L462.76 356.53 L465.69 356.35 L468.62 356.17 L471.54 355.98 L474.47 355.77 L477.39 355.55 L480.32 355.32 L483.25 355.07 L486.17 354.79 L489.10 354.50 L492.02 354.18 L494.95 353.82 L495.20 353.79 L495.45 353.76 L495.70 353.73 L495.95 353.70 L496.20 353.66 L496.45 353.63 L496.70 353.60 L496.95 353.57 L497.20 353.53 L497.45 353.50 L497.70 353.47 L497.95 353.43 L498.20 353.40 L498.45 353.36 L498.70 353.33 L498.95 353.29 L499.20 353.26 L499.45 353.22 L499.70 353.19 L499.95 353.15 L500.20 353.11 L500.45 353.08 L500.70 353.04 L500.95 353.00 L501.20 352.95 L501.45 352.91 L501.70 352.87 L501.95 352.83 L502.20 352.78 L502.45 352.73 L502.70 352.69 L502.95 352.64 L503.20 352.59 L503.45 352.54 L503.70 352.50 L503.95 352.45 L504.20 352.39 L504.45 352.34 L504.70 352.29 L504.95 352.24 L505.20 352.19 L505.45 352.14 L505.70 352.08 L505.95 352.03 L506.20 351.98 L506.45 351.93 L506.70 351.87 L506.95 351.82 L507.20 351.76 L507.45 351.71 L507.71 351.66 L507.96 351.60 L508.21 351.55 L508.47 351.50 L508.72 351.45 L508.97 351.39 L509.23 351.34 L509.48 351.29 L509.73 351.24 L509.99 351.19 L510.24 351.14 L510.49 351.09 L510.75 351.04 L511.00 350.99 L511.25 350.94 L511.51 350.89 L511.76 350.85 L512.01 350.80 L512.27 350.75 L512.52 350.70 L512.77 350.66 L513.03 350.61 L513.28 350.56 L513.53 350.52 L513.79 350.47 L514.04 350.43 L514.29 350.38 L514.54 350.34 L514.80 350.29 L515.05 350.24 L515.30 350.20 L515.56 350.15 L515.81 350.11 L516.06 350.06 L516.32 350.02 L516.57 349.97 L516.82 349.93 L517.07 349.88 L517.33 349.83 L517.58 349.79 L517.83 349.74 L518.09 349.70 L518.34 349.65 L518.59 349.60 L518.85 349.56 L519.10 349.51 L519.35 349.46 L519.61 349.42 L519.86 349.37 L520.11 349.32 L520.37 349.27 L520.62 349.23 L520.87 349.18 L521.12 349.13 L521.38 349.08 L521.63 349.03 L521.88 348.98 L522.14 348.93 L522.39 348.88 L522.64 348.83 L522.90 348.78 L523.15 348.73 L523.40 348.68 L523.66 348.63 L523.91 348.58 L524.16 348.54 L524.42 348.49 L524.67 348.44 L524.92 348.39 L525.18 348.35 L525.43 348.30 L525.68 348.25 L525.94 348.21 L526.19 348.16 L526.44 348.11 L526.70 348.07 L526.95 348.02 L527.20 347.97 L527.46 347.92 L527.71 347.87 L527.96 347.82 L528.22 347.77 L528.47 347.72 L528.72 347.67 L528.98 347.62 L529.23 347.56 L529.48 347.51 L529.74 347.46 L529.99 347.40 L530.24 347.34 L530.50 347.28 L530.75 347.22 L531.01 347.16 L531.26 347.10 L531.51 347.03 L531.77 346.97 L532.02 346.90 L532.28 346.83 L532.53 346.76 L532.79 346.69 L533.04 346.62 L533.30 346.54 L533.55 346.46 L533.81 346.38 L534.06 346.30 L534.32 346.21 L534.58 346.12 L534.83 346.02 L535.09 345.91 L535.35 345.81 L535.60 345.69 L535.86 345.57 L536.12 345.45 L536.38 345.32 L536.64 345.19 L536.90 345.06 L537.16 344.92 L537.41 344.78 L537.67 344.63 L537.93 344.48 L538.19 344.33 L538.45 344.18 L538.71 344.03 L538.98 343.87 L539.24 343.71 L539.50 343.55 L539.76 343.39 L540.02 343.22 L540.28 343.04 L540.54 342.87 L540.80 342.68 L541.07 342.50 L541.33 342.30 L541.59 342.11 L541.86 341.90 L542.12 341.70 L542.38 341.49 L542.65 341.27 L542.91 341.05 L543.18 340.83 L543.44 340.60 L543.71 340.36 L543.98 340.12 L544.24 339.88 L544.51 339.64 L544.77 339.38 L545.04 339.13 L545.31 338.87 L545.58 338.60 L545.84 338.33 L546.11 338.05 L546.38 337.77 L546.65 337.47 L546.92 337.17 L547.19 336.86 L547.45 336.54 L547.70 336.21 L547.95 335.88 L548.20 335.54 L548.45 335.19 L548.70 334.84 L548.95 334.48 L549.20 334.11 L549.45 333.74 L549.70 333.36 L549.95 332.98 L550.20 332.59 L550.45 332.20 L550.70 331.80 L550.95 331.40 L551.20 330.99 L551.45 330.58 L551.70 330.17 L551.95 329.75 L552.20 329.32 L552.45 328.88 L552.70 328.43 L552.95 327.97 L553.20 327.50 L553.45 327.02 L553.70 326.52 L553.95 326.02 L554.20 325.51 L554.45 325.00 L554.70 324.47 L554.95 323.94 L555.20 323.40 L555.45 322.85 L555.70 322.30 L555.95 321.75 L556.20 321.55 L556.45 321.35 L556.70 321.15 L556.95 320.94 L557.20 320.73 L557.45 320.52 L557.70 320.30 L557.95 320.08 L558.20 319.86 L558.45 319.64 L558.70 319.41 L558.95 319.18 L559.20 318.95 L559.45 318.72 L559.70 318.48 L559.95 318.24 L560.20 318.00 L560.45 317.75 L560.70 317.50 L560.95 317.25 L561.20 316.99 L561.45 316.73 L561.70 316.46 L561.95 316.19 L562.20 315.91 L562.45 315.62 L562.70 315.34 L562.95 315.04 L563.20 314.75 L563.45 314.45 L563.70 314.15 L563.95 313.84 L564.20 313.53 L564.45 313.22 L564.70 312.91 L564.95 312.60 L565.20 312.29 L565.45 311.98 L565.70 311.66 L565.95 311.35 L566.20 311.04 L566.45 310.73 L566.70 310.42 L566.95 310.11 L567.20 309.80 L567.45 309.50 L567.70 309.20 L567.95 308.90 L568.20 308.61 L568.45 308.32 L568.70 308.03 L568.95 307.75 L569.20 307.47 L569.45 307.19 L569.70 306.90 L569.94 306.61 L570.17 306.32 L570.40 306.02 L570.63 305.72 L570.86 305.43 L571.09 305.13 L571.32 304.82 L571.55 304.52 L571.78 304.22 L572.01 303.92 L572.24 303.61 L572.47 303.31 L572.70 303.01 L572.93 302.71 L573.16 302.41 L573.39 302.11 L573.62 301.81 L573.85 301.51 L574.08 301.22 L574.31 300.93 L574.54 300.64 L574.77 300.35 L575.00 300.07 L575.24 299.79 L575.47 299.52 L575.70 299.25 L575.93 298.98 L576.16 298.72 L576.40 298.46 L576.63 298.21 L576.86 297.96 L577.10 297.72 L577.33 297.49 L577.57 297.26 L577.80 297.04 L578.04 296.82 L578.27 296.62 L578.51 296.42 L578.75 296.22 L578.99 296.04 L579.22 295.86 L579.46 295.70 L579.70 295.54 L579.94 295.39 L580.18 295.25 L580.42 295.12 L580.67 294.98 L580.91 294.85 L581.15 294.72 L581.39 294.60 L581.63 294.47 L581.87 294.35 L582.12 294.23 L582.36 294.11 L582.60 293.99 L582.84 293.88 L583.08 293.76 L583.33 293.65 L583.57 293.54 L583.81 293.43 L584.05 293.32 L584.30 293.22 L584.54 293.12 L584.78 293.01 L585.03 292.91 L585.27 292.82 L585.51 292.72 L585.76 292.62 L586.00 292.53 L586.25 292.44 L586.49 292.35 L586.73 292.26 L586.98 292.17 L587.22 292.09 L587.47 292.00 L587.71 291.92 L587.96 291.84 L588.20 291.76 L588.45 291.69 L588.70 291.61 L588.95 291.54 L589.20 291.46 L589.45 291.39 L589.70 291.32 L589.95 291.25 L590.20 291.19 L590.45 291.12 L590.70 291.06 L590.95 291.00 L591.20 290.94 L591.45 290.88 L591.70 290.82 L591.95 290.76 L592.20 290.71 L592.45 290.65 L592.70 290.60 L592.95 290.55 L593.20 290.50 L593.45 290.45 L593.70 290.40 L593.95 290.35 L594.20 290.31 L594.45 290.26 L594.70 290.22 L594.95 290.17 L595.20 290.13 L595.45 290.08 L595.70 290.04 L595.95 290.00 L596.20 289.96 L596.45 289.91 L596.70 289.87 L596.95 289.83 L597.20 289.79 L597.45 289.75 L597.70 289.72 L597.95 289.68 L598.20 289.64 L598.45 289.60 L598.70 289.57 L598.95 289.53 L599.20 289.50 L599.45 289.46 L599.70 289.43 L599.95 289.39 L600.20 289.36 L600.45 289.33 L600.70 289.29 L600.95 289.26 L601.20 289.23 L601.45 289.20 L601.70 289.16 L601.95 289.13 L602.20 289.10 L602.45 289.07 L602.70 289.04 L602.95 289.01 L603.20 288.98 L603.45 288.95 L603.70 288.92 L603.95 288.90 L604.20 288.87 L604.45 288.84 L604.70 288.81 L604.95 288.78 L605.20 288.76 L605.45 288.73 L605.70 288.70 L605.95 288.67 L606.20 288.65 L606.45 288.62 L606.70 288.59 L606.95 288.57 L607.20 288.54 L607.45 288.51 L607.70 288.49 L607.95 288.46 L608.20 288.43 L608.45 288.41 L608.70 288.38 L608.95 288.35 L609.20 288.33 L609.45 288.30 L609.70 288.28 L609.95 288.25 L610.20 288.22 L610.45 288.20 L610.70 288.17 L610.95 288.15 L611.20 288.12 L611.45 288.10 L611.70 288.07 L611.95 288.05 L612.20 288.02 L612.45 288.00 L612.70 287.97 L612.95 287.95 L613.20 287.92 L613.45 287.90 L613.70 287.88 L613.95 287.85 L614.20 287.83 L614.45 287.81 L614.70 287.78 L614.95 287.76 L617.88 287.50 L620.80 287.26 L623.73 287.03 L626.65 286.80 L629.58 286.58 L632.51 286.35 L635.43 286.13 L638.36 285.91 L641.28 285.69 L644.21 285.48 L647.14 285.27 L650.06 285.06 L652.99 284.87 L655.91 284.68 L658.84 284.50 L661.77 284.32 L664.69 284.16 L667.62 284.01 L670.54 283.86 L673.47 283.72 L676.40 283.59 L679.32 283.45 L682.25 283.33 L685.18 283.21 L688.10 283.09 L691.03 282.97 L693.95 282.86 L696.88 282.76 L699.81 282.65 L702.73 282.56 L705.66 282.47 L708.58 282.38 L711.51 282.30 L714.44 282.22 L717.36 282.14 L720.29 282.06 L723.21 281.98 L726.14 281.91 L729.07 281.82 L731.99 281.74 L734.92 281.65 L737.84 281.56 L740.77 281.46 L743.70 281.35 L746.62 281.24 L749.55 281.14 L752.47 281.03 L755.40 280.92 L758.33 280.81 L761.25 280.71 L764.18 280.62 L767.10 280.53 L770.03 280.45 L772.96 280.37 L775.88 280.30 L778.81 280.23 L781.73 280.16 L784.66 280.09 L787.59 280.03 L790.51 279.97 L793.44 279.91 L796.37 279.85 L799.29 279.79 L802.22 279.73 L805.14 279.67 L808.07 279.62 L811.00 279.56 L813.92 279.51 L816.85 279.46 L819.77 279.40 L822.70 279.35 L825.63 279.30 L828.55 279.25 L831.48 279.20 L834.40 279.15 L837.33 279.10 L840.26 279.04 L843.18 278.99 L846.11 278.94 L849.03 278.89 L851.96 278.84 L854.89 278.78 L857.81 278.73 L860.74 278.68 L863.66 278.63 L866.59 278.57 L869.52 278.52 L872.44 278.47 L875.37 278.42 L878.29 278.38 L881.22 278.33 L884.15 278.28 L887.07 278.24 L890.00 278.20 L892.92 278.15 L895.85 278.11 L898.78 278.08 L901.70 278.04 L904.63 278.01 L907.56 277.97 L910.48 277.94 L913.41 277.92 L916.33 277.89 L919.26 277.86 L922.19 277.83 L925.11 277.81 L928.04 277.78 L930.96 277.76 L933.89 277.73 L936.82 277.71 L939.74 277.69 L942.67 277.67 L945.59 277.65 L948.52 277.63 L951.45 277.61 L954.37 277.60 L957.30 277.58 L960.22 277.57 L963.15 277.56"/>
<path stroke="#0000ff" d="M963.15 279.79 L960.22 279.84 L957.30 279.90 L954.37 279.96 L951.45 280.01 L948.52 280.07 L945.59 280.13 L942.67 280.18 L939.74 280.23 L936.82 280.29 L933.89 280.34 L930.96 280.39 L928.04 280.45 L925.11 280.50 L922.19 280.55 L919.26 280.60 L916.33 280.65 L913.41 280.69 L910.48 280.74 L907.56 280.79 L904.63 280.83 L901.70 280.88 L898.78 280.92 L895.85 280.96 L892.92 281.00 L890.00 281.03 L887.07 281.07 L884.15 281.11 L881.22 281.15 L878.29 281.18 L875.37 281.22 L872.44 281.26 L869.52 281.29 L866.59 281.33 L863.66 281.37 L860.74 281.41 L857.81 281.45 L854.89 281.50 L851.96 281.54 L849.03 281.59 L846.11 281.64 L843.18 281.69 L840.26 281.74 L837.33 281.80 L834.40 281.87 L831.48 281.94 L828.55 282.01 L825.63 282.09 L822.70 282.17 L819.77 282.25 L816.85 282.33 L813.92 282.42 L811.00 282.49 L808.07 282.57 L805.14 282.65 L802.22 282.71 L799.29 282.78 L796.37 282.84 L793.44 282.91 L790.51 282.97 L787.59 283.03 L784.66 283.09 L781.73 283.16 L778.81 283.22 L775.88 283.29 L772.96 283.37 L770.03 283.45 L767.10 283.54 L764.18 283.63 L761.25 283.73 L758.33 283.84 L755.40 283.96 L752.47 284.07 L749.55 284.19 L746.62 284.31 L743.70 284.43 L740.77 284.54 L737.84 284.65 L734.92 284.75 L731.99 284.85 L729.07 284.94 L726.14 285.02 L723.21 285.10 L720.29 285.18 L717.36 285.27 L714.44 285.35 L711.51 285.44 L708.58 285.53 L705.66 285.63 L702.73 285.74 L699.81 285.86 L696.88 285.99 L693.95 286.15 L691.03 286.33 L688.10 286.52 L685.18 286.72 L682.25 286.93 L679.32 287.15 L676.40 287.36 L673.47 287.58 L670.54 287.78 L667.62 287.98 L664.69 288.17 L661.77 288.34 L658.84 288.51 L655.91 288.68 L652.99 288.85 L650.06 289.01 L647.14 289.18 L644.21 289.34 L641.28 289.50 L638.36 289.67 L635.43 289.83 L632.51 290.00 L629.58 290.17 L626.65 290.34 L623.73 290.49 L620.80 290.65 L617.88 290.82 L614.95 291.00 L614.70 291.02 L614.45 291.04 L614.20 291.06 L613.95 291.07 L613.70 291.09 L613.45 291.11 L613.20 291.13 L612.95 291.15 L612.70 291.16 L612.45 291.18 L612.20 291.20 L611.95 291.22 L611.70 291.24 L611.45 291.26 L611.20 291.28 L610.95 291.30 L610.70 291.32 L610.45 291.34 L610.20 291.36 L609.95 291.38 L609.70 291.41 L609.45 291.43 L609.20 291.45 L608.95 291.47 L608.70 291.50 L608.45 291.52 L608.20 291.54 L607.95 291.57 L607.70 291.59 L607.45 291.62 L607.20 291.64 L606.95 291.67 L606.70 291.69 L606.45 291.72 L606.20 291.75 L605.95 291.77 L605.70 291.80 L605.44 291.83 L605.19 291.86 L604.94 291.89 L604.69 291.91 L604.44 291.94 L604.19 291.97 L603.93 292.00 L603.68 292.03 L603.43 292.06 L603.18 292.09 L602.92 292.13 L602.67 292.16 L602.42 292.19 L602.17 292.22 L601.92 292.25 L601.66 292.29 L601.41 292.32 L601.16 292.35 L600.91 292.39 L600.66 292.42 L600.40 292.46 L600.15 292.49 L599.90 292.53 L599.65 292.56 L599.39 292.60 L599.14 292.63 L598.89 292.67 L598.64 292.71 L598.38 292.75 L598.13 292.78 L597.88 292.82 L597.63 292.86 L597.37 292.90 L597.12 292.94 L596.87 292.98 L596.62 293.02 L596.36 293.06 L596.11 293.10 L595.86 293.14 L595.60 293.18 L595.35 293.22 L595.10 293.26 L594.85 293.31 L594.59 293.35 L594.34 293.39 L594.09 293.44 L593.83 293.48 L593.58 293.52 L593.33 293.57 L593.08 293.61 L592.82 293.66 L592.57 293.71 L592.32 293.76 L592.06 293.81 L591.81 293.86 L591.56 293.91 L591.30 293.97 L591.05 294.02 L590.79 294.08 L590.54 294.14 L590.29 294.20 L590.03 294.26 L589.78 294.32 L589.52 294.38 L589.27 294.45 L589.02 294.51 L588.76 294.58 L588.51 294.64 L588.25 294.71 L588.00 294.78 L587.74 294.85 L587.49 294.93 L587.23 295.00 L586.98 295.07 L586.72 295.15 L586.47 295.23 L586.21 295.30 L585.96 295.38 L585.70 295.47 L585.45 295.55 L585.19 295.63 L584.94 295.72 L584.68 295.81 L584.42 295.90 L584.17 295.99 L583.91 296.08 L583.65 296.18 L583.40 296.27 L583.14 296.37 L582.88 296.48 L582.63 296.58 L582.37 296.69 L582.11 296.80 L581.86 296.91 L581.60 297.03 L581.34 297.15 L581.08 297.27 L580.82 297.39 L580.57 297.52 L580.31 297.65 L580.05 297.78 L579.79 297.92 L579.53 298.06 L579.27 298.21 L579.01 298.37 L578.75 298.54 L578.49 298.71 L578.22 298.89 L577.96 299.08 L577.70 299.28 L577.43 299.48 L577.17 299.68 L576.91 299.90 L576.64 300.11 L576.38 300.34 L576.11 300.57 L575.85 300.80 L575.58 301.04 L575.31 301.28 L575.05 301.53 L574.78 301.78 L574.51 302.04 L574.25 302.29 L573.98 302.55 L573.71 302.82 L573.44 303.09 L573.18 303.35 L572.91 303.62 L572.64 303.90 L572.37 304.17 L572.10 304.45 L571.84 304.72 L571.57 305.00 L571.30 305.28 L571.03 305.56 L570.76 305.84 L570.49 306.12 L570.22 306.39 L569.96 306.67 L569.70 306.95 L569.45 307.22 L569.20 307.50 L568.95 307.77 L568.70 308.04 L568.45 308.31 L568.20 308.57 L567.95 308.83 L567.70 309.09 L567.45 309.35 L567.20 309.60 L566.95 309.86 L566.70 310.12 L566.45 310.39 L566.20 310.65 L565.95 310.93 L565.70 311.20 L565.45 311.47 L565.20 311.75 L564.95 312.03 L564.70 312.31 L564.45 312.59 L564.20 312.87 L563.95 313.15 L563.70 313.43 L563.45 313.71 L563.20 313.99 L562.95 314.27 L562.70 314.54 L562.45 314.82 L562.20 315.09 L561.95 315.36 L561.70 315.62 L561.45 315.89 L561.20 316.15 L560.95 316.40 L560.70 316.65 L560.45 316.90 L560.20 317.14 L559.95 317.37 L559.70 317.60 L559.45 317.82 L559.20 318.04 L558.95 318.25 L558.70 318.45 L558.45 318.66 L558.20 318.86 L557.95 319.05 L557.70 319.24 L557.45 319.43 L557.20 319.62 L556.95 319.80 L556.70 319.98 L556.45 320.16 L556.20 320.33 L555.95 320.50 L555.70 320.67 L555.45 320.83 L555.20 321.00 L554.95 321.15 L554.70 321.31 L554.45 321.46 L554.20 321.61 L553.95 321.75 L553.70 322.22 L553.45 322.69 L553.20 323.15 L552.95 323.62 L552.70 324.07 L552.45 324.52 L552.20 324.97 L551.95 325.42 L551.70 325.85 L551.45 326.29 L551.20 326.71 L550.95 327.13 L550.70 327.55 L550.45 327.96 L550.20 328.36 L549.95 328.75 L549.70 329.14 L549.45 329.53 L549.20 329.92 L548.95 330.30 L548.70 330.69 L548.45 331.07 L548.20 331.45 L547.95 331.83 L547.70 332.20 L547.45 332.57 L547.20 332.93 L546.95 333.29 L546.70 333.65 L546.45 334.00 L546.20 334.35 L545.95 334.68 L545.70 335.02 L545.45 335.34 L545.20 335.66 L544.95 335.97 L544.70 336.28 L544.45 336.57 L544.21 336.86 L543.98 337.13 L543.74 337.40 L543.51 337.67 L543.28 337.92 L543.05 338.18 L542.81 338.43 L542.58 338.67 L542.34 338.92 L542.11 339.16 L541.88 339.39 L541.64 339.62 L541.41 339.84 L541.17 340.06 L540.94 340.28 L540.70 340.49 L540.46 340.70 L540.23 340.90 L539.99 341.10 L539.75 341.29 L539.52 341.48 L539.28 341.66 L539.04 341.84 L538.80 342.02 L538.56 342.19 L538.32 342.35 L538.08 342.51 L537.84 342.67 L537.61 342.83 L537.37 342.98 L537.13 343.13 L536.89 343.28 L536.65 343.43 L536.41 343.58 L536.16 343.72 L535.92 343.86 L535.68 343.99 L535.44 344.12 L535.20 344.25 L534.96 344.37 L534.72 344.49 L534.47 344.61 L534.23 344.71 L533.99 344.82 L533.74 344.92 L533.50 345.01 L533.26 345.10 L533.01 345.18 L532.77 345.26 L532.52 345.34 L532.28 345.42 L532.03 345.49 L531.79 345.56 L531.54 345.63 L531.30 345.70 L531.05 345.77 L530.81 345.83 L530.56 345.90 L530.31 345.96 L530.07 346.02 L529.82 346.08 L529.58 346.14 L529.33 346.20 L529.08 346.26 L528.84 346.31 L528.59 346.36 L528.34 346.42 L528.10 346.47 L527.85 346.52 L527.60 346.57 L527.36 346.62 L527.11 346.67 L526.86 346.72 L526.62 346.77 L526.37 346.82 L526.12 346.87 L525.88 346.91 L525.63 346.96 L525.38 347.01 L525.14 347.05 L524.89 347.10 L524.64 347.15 L524.40 347.19 L524.15 347.24 L523.90 347.29 L523.66 347.34 L523.41 347.38 L523.16 347.43 L522.92 347.48 L522.67 347.53 L522.42 347.58 L522.18 347.63 L521.93 347.68 L521.68 347.73 L521.44 347.78 L521.19 347.83 L520.94 347.88 L520.70 347.93 L520.45 347.98 L520.20 348.03 L519.95 348.07 L519.71 348.12 L519.46 348.17 L519.21 348.22 L518.97 348.26 L518.72 348.31 L518.47 348.36 L518.23 348.40 L517.98 348.45 L517.73 348.50 L517.49 348.54 L517.24 348.59 L516.99 348.63 L516.75 348.68 L516.50 348.73 L516.25 348.77 L516.00 348.82 L515.76 348.86 L515.51 348.91 L515.26 348.95 L515.02 349.00 L514.77 349.04 L514.52 349.09 L514.28 349.14 L514.03 349.18 L513.78 349.23 L513.53 349.27 L513.29 349.32 L513.04 349.36 L512.79 349.41 L512.55 349.46 L512.30 349.50 L512.05 349.55 L511.81 349.60 L511.56 349.65 L511.31 349.69 L511.07 349.74 L510.82 349.79 L510.57 349.84 L510.33 349.89 L510.08 349.94 L509.83 349.99 L509.59 350.04 L509.34 350.09 L509.09 350.14 L508.85 350.19 L508.60 350.25 L508.35 350.30 L508.11 350.35 L507.86 350.40 L507.61 350.46 L507.37 350.51 L507.12 350.56 L506.87 350.62 L506.63 350.67 L506.38 350.73 L506.14 350.78 L505.89 350.83 L505.64 350.88 L505.40 350.94 L505.15 350.99 L504.90 351.04 L504.66 351.09 L504.41 351.14 L504.16 351.19 L503.92 351.25 L503.67 351.30 L503.42 351.34 L503.18 351.39 L502.93 351.44 L502.68 351.49 L502.44 351.53 L502.19 351.58 L501.94 351.63 L501.69 351.67 L501.45 351.71 L501.20 351.75 L500.95 351.80 L500.70 351.84 L500.45 351.88 L500.20 351.91 L499.95 351.95 L499.70 351.99 L499.45 352.02 L499.20 352.06 L498.95 352.09 L498.70 352.13 L498.45 352.16 L498.20 352.20 L497.95 352.23 L497.70 352.27 L497.45 352.30 L497.20 352.33 L496.95 352.37 L496.70 352.40 L496.45 352.43 L496.20 352.46 L495.95 352.50 L495.70 352.53 L495.45 352.56 L495.20 352.59 L494.95 352.62 L492.02 352.98 L489.10 353.30 L486.17 353.59 L483.25 353.87 L480.32 354.12 L477.39 354.35 L474.47 354.57 L471.54 354.78 L468.62 354.97 L465.69 355.15 L462.76 355.33 L459.84 355.50 L456.91 355.66 L453.99 355.83 L451.06 355.99 L448.13 356.16 L445.21 356.33 L442.28 356.51 L439.36 356.70 L436.43 356.88 L433.50 357.07 L430.58 357.26 L427.65 357.45 L424.72 357.64 L421.80 357.82 L418.87 358.00 L415.95 358.18 L413.02 358.34 L410.09 358.50 L407.17 358.64 L404.24 358.78 L401.32 358.90 L398.39 359.01 L395.46 359.10 L392.54 359.19 L389.61 359.27 L386.69 359.34 L383.76 359.41 L380.83 359.49 L377.91 359.57 L374.98 359.65 L372.06 359.74 L369.13 359.83 L366.20 359.92 L363.28 360.02 L360.35 360.12 L357.43 360.21 L354.50 360.31 L351.57 360.41 L348.65 360.50 L345.72 360.59 L342.80 360.67 L339.87 360.75 L336.94 360.83 L334.02 360.90 L331.09 360.97 L328.17 361.04 L325.24 361.10 L322.31 361.17 L319.39 361.23 L316.46 361.29 L313.53 361.35 L310.61 361.42 L307.68 361.48 L304.76 361.54 L301.83 361.61 L298.90 361.67 L295.98 361.74 L293.05 361.81 L290.13 361.88 L287.20 361.96 L284.27 362.03 L281.35 362.10 L278.42 362.17 L275.50 362.23 L272.57 362.30 L269.64 362.36 L266.72 362.41 L263.79 362.47 L260.87 362.53 L257.94 362.58 L255.01 362.63 L252.09 362.68 L249.16 362.74 L246.24 362.79 L243.31 362.83 L240.38 362.88 L237.46 362.93 L234.53 362.98 L231.61 363.03 L228.68 363.07 L225.75 363.12 L222.83 363.17 L219.90 363.21 L216.98 363.26 L214.05 363.31 L211.12 363.36 L208.20 363.41 L205.27 363.46 L202.34 363.51 L199.42 363.56 L196.49 363.61 L193.57 363.66 L190.64 363.72 L187.71 363.77 L184.79 363.82 L181.86 363.87 L178.94 363.93 L176.01 363.98 L173.08 364.03 L170.16 364.09 L167.23 364.14 L164.31 364.19 L161.38 364.25 L158.45 364.30 L155.53 364.35 L152.60 364.41 L149.68 364.46 L146.75 364.52 L146.75 364.52 L149.68 364.46 L152.60 364.41 L155.53 364.35 L158.45 364.30 L161.38 364.25 L164.31 364.19 L167.23 364.14 L170.16 364.09 L173.08 364.03 L176.01 363.98 L178.94 363.93 L181.86 363.87 L184.79 363.82 L187.71 363.77 L190.64 363.72 L193.57 363.66 L196.49 363.61 L199.42 363.56 L202.34 363.51 L205.27 363.46 L208.20 363.41 L211.12 363.36 L214.05 363.31 L216.98 363.26 L219.90 363.21 L222.83 363.17 L225.75 363.12 L228.68 363.07 L231.61 363.03 L234.53 362.98 L237.46 362.93 L240.38 362.88 L243.31 362.83 L246.24 362.79 L249.16 362.74 L252.09 362.68 L255.01 362.63 L257.94 362.58 L260.87 362.53 L263.79 362.47 L266.72 362.41 L269.64 362.36 L272.57 362.30 L275.50 362.23 L278.42 362.17 L281.35 362.10 L284.27 362.03 L287.20 361.96 L290.13 361.88 L293.05 361.81 L295.98 361.74 L298.90 361.67 L301.83 361.61 L304.76 361.54 L307.68 361.48 L310.61 361.42 L313.53 361.35 L316.46 361.29 L319.39 361.23 L322.31 361.17 L325.24 361.10 L328.17 361.04 L331.09 360.97 L334.02 360.90 L336.94 360.83 L339.87 360.75 L342.80 360.67 L345.72 360.59 L348.65 360.50 L351.57 360.41 L354.50 360.31 L357.43 360.21 L360.35 360.12 L363.28 360.02 L366.20 359.92 L369.13 359.83 L372.06 359.74 L374.98 359.65 L377.91 359.57 L380.83 359.49 L383.76 359.41 L386.69 359.34 L389.61 359.27 L392.54 359.19 L395.46 359.10 L398.39 359.01 L401.32 358.90 L404.24 358.78 L407.17 358.64 L410.09 358.50 L413.02 358.34 L415.95 358.18 L418.87 358.00 L421.80 357.82 L424.72 357.64 L427.65 357.45 L430.58 357.26 L433.50 357.07 L436.43 356.88 L439.36 356.70 L442.28 356.51 L445.21 356.33 L448.13 356.16 L451.06 355.99 L453.99 355.83 L456.91 355.66 L459.84 355.50 L462.76 355.33 L465.69 355.15 L468.62 354.97 L471.54 354.78 L474.47 354.57 L477.39 354.35 L480.32 354.12 L483.25 353.87 L486.17 353.59 L489.10 353.30 L492.02 352.98 L494.95 352.62 L495.20 352.59 L495.45 352.56 L495.70 352.53 L495.95 352.50 L496.20 352.46 L496.45 352.43 L496.70 352.40 L496.95 352.37 L497.20 352.33 L497.45 352.30 L497.70 352.27 L497.95 352.23 L498.20 352.20 L498.45 352.16 L498.70 352.13 L498.95 352.09 L499.20 352.06 L499.45 352.02 L499.70 351.99 L499.95 351.95 L500.20 351.91 L500.45 351.88 L500.70 351.84 L500.95 351.80 L501.20 351.75 L501.45 351.71 L501.71 351.67 L501.96 351.63 L502.21 351.58 L502.46 351.53 L502.72 351.49 L502.97 351.44 L503.22 351.39 L503.48 351.34 L503.73 351.30 L503.98 351.25 L504.24 351.19 L504.49 351.14 L504.74 351.09 L505.00 351.04 L505.25 350.99 L505.50 350.94 L505.76 350.88 L506.01 350.83 L506.26 350.78 L506.52 350.73 L506.77 350.67 L507.03 350.62 L507.28 350.56 L507.53 350.51 L507.79 350.46 L508.04 350.40 L508.29 350.35 L508.55 350.30 L508.80 350.25 L509.05 350.19 L509.31 350.14 L509.56 350.09 L509.81 350.04 L510.07 349.99 L510.32 349.94 L510.57 349.89 L510.83 349.84 L511.08 349.79 L511.33 349.74 L511.59 349.69 L511.84 349.65 L512.09 349.60 L512.35 349.55 L512.60 349.50 L512.85 349.46 L513.11 349.41 L513.36 349.36 L513.61 349.32 L513.87 349.27 L514.12 349.23 L514.37 349.18 L514.62 349.14 L514.88 349.09 L515.13 349.04 L515.38 349.00 L515.64 348.95 L515.89 348.91 L516.14 348.86 L516.40 348.82 L516.65 348.77 L516.90 348.73 L517.15 348.68 L517.41 348.63 L517.66 348.59 L517.91 348.54 L518.17 348.50 L518.42 348.45 L518.67 348.40 L518.93 348.36 L519.18 348.31 L519.43 348.26 L519.69 348.22 L519.94 348.17 L520.19 348.12 L520.45 348.07 L520.70 348.03 L520.95 347.98 L521.20 347.93 L521.46 347.88 L521.71 347.83 L521.96 347.78 L522.22 347.73 L522.47 347.68 L522.72 347.63 L522.98 347.58 L523.23 347.53 L523.48 347.48 L523.74 347.43 L523.99 347.38 L524.24 347.34 L524.50 347.29 L524.75 347.24 L525.00 347.19 L525.26 347.15 L525.51 347.10 L525.76 347.05 L526.02 347.01 L526.27 346.96 L526.52 346.91 L526.78 346.87 L527.03 346.82 L527.28 346.77 L527.54 346.72 L527.79 346.67 L528.04 346.62 L528.30 346.57 L528.55 346.52 L528.80 346.47 L529.06 346.42 L529.31 346.36 L529.56 346.31 L529.82 346.26 L530.07 346.20 L530.32 346.14 L530.58 346.08 L530.83 346.02 L531.09 345.96 L531.34 345.90 L531.59 345.83 L531.85 345.77 L532.10 345.70 L532.36 345.63 L532.61 345.56 L532.87 345.49 L533.12 345.42 L533.38 345.34 L533.63 345.26 L533.89 345.18 L534.14 345.10 L534.40 345.01 L534.66 344.92 L534.91 344.82 L535.17 344.71 L535.43 344.61 L535.68 344.49 L535.94 344.37 L536.20 344.25 L536.46 344.12 L536.72 343.99 L536.98 343.86 L537.24 343.72 L537.49 343.58 L537.75 343.43 L538.01 343.28 L538.27 343.13 L538.53 342.98 L538.79 342.83 L539.06 342.67 L539.32 342.51 L539.58 342.35 L539.84 342.19 L540.10 342.02 L540.36 341.84 L540.62 341.66 L540.88 341.48 L541.15 341.29 L541.41 341.10 L541.67 340.90 L541.94 340.70 L542.20 340.49 L542.46 340.28 L542.73 340.06 L542.99 339.84 L543.26 339.62 L543.52 339.39 L543.79 339.16 L544.06 338.92 L544.32 338.67 L544.59 338.43 L544.85 338.18 L545.12 337.92 L545.39 337.67 L545.66 337.40 L545.92 337.13 L546.19 336.86 L546.45 336.57 L546.70 336.28 L546.95 335.97 L547.20 335.66 L547.45 335.34 L547.70 335.02 L547.95 334.68 L548.20 334.35 L548.45 334.00 L548.70 333.65 L548.95 333.29 L549.20 332.93 L549.45 332.57 L549.70 332.20 L549.95 331.83 L550.20 331.45 L550.45 331.07 L550.70 330.69 L550.95 330.30 L551.20 329.92 L551.45 329.53 L551.70 329.14 L551.95 328.75 L552.20 328.36 L552.45 327.96 L552.70 327.55 L552.95 327.13 L553.20 326.71 L553.45 326.29 L553.70 325.85 L553.95 325.42 L554.20 324.97 L554.45 324.52 L554.70 324.07 L554.95 323.62 L555.20 323.15 L555.45 322.69 L555.70 322.22 L555.95 321.75 L556.20 321.61 L556.45 321.46 L556.70 321.31 L556.95 321.15 L557.20 321.00 L557.45 320.83 L557.70 320.67 L557.95 320.50 L558.20 320.33 L558.45 320.16 L558.70 319.98 L558.95 319.80 L559.20 319.62 L559.45 319.43 L559.70 319.24 L559.95 319.05 L560.20 318.86 L560.45 318.66 L560.70 318.45 L560.95 318.25 L561.20 318.04 L561.45 317.82 L561.70 317.60 L561.95 317.37 L562.20 317.14 L562.45 316.90 L562.70 316.65 L562.95 316.40 L563.20 316.15 L563.45 315.89 L563.70 315.62 L563.95 315.36 L564.20 315.09 L564.45 314.82 L564.70 314.54 L564.95 314.27 L565.20 313.99 L565.45 313.71 L565.70 313.43 L565.95 313.15 L566.20 312.87 L566.45 312.59 L566.70 312.31 L566.95 312.03 L567.20 311.75 L567.45 311.47 L567.70 311.20 L567.95 310.93 L568.20 310.65 L568.45 310.39 L568.70 310.12 L568.95 309.86 L569.20 309.60 L569.45 309.35 L569.70 309.09 L569.95 308.83 L570.20 308.57 L570.45 308.31 L570.70 308.04 L570.95 307.77 L571.20 307.50 L571.45 307.22 L571.70 306.95 L571.94 306.67 L572.18 306.39 L572.41 306.12 L572.64 305.84 L572.87 305.56 L573.10 305.28 L573.33 305.00 L573.56 304.72 L573.80 304.45 L574.03 304.17 L574.26 303.90 L574.49 303.62 L574.72 303.35 L574.96 303.09 L575.19 302.82 L575.42 302.55 L575.65 302.29 L575.89 302.04 L576.12 301.78 L576.35 301.53 L576.59 301.28 L576.82 301.04 L577.05 300.80 L577.29 300.57 L577.52 300.34 L577.76 300.11 L577.99 299.90 L578.23 299.68 L578.47 299.48 L578.70 299.28 L578.94 299.08 L579.18 298.89 L579.41 298.71 L579.65 298.54 L579.89 298.37 L580.13 298.21 L580.37 298.06 L580.61 297.92 L580.85 297.78 L581.09 297.65 L581.33 297.52 L581.58 297.39 L581.82 297.27 L582.06 297.15 L582.30 297.03 L582.54 296.91 L582.79 296.80 L583.03 296.69 L583.27 296.58 L583.52 296.48 L583.76 296.37 L584.00 296.27 L584.25 296.18 L584.49 296.08 L584.73 295.99 L584.98 295.90 L585.22 295.81 L585.46 295.72 L585.71 295.63 L585.95 295.55 L586.20 295.47 L586.44 295.38 L586.69 295.30 L586.93 295.23 L587.18 295.15 L587.42 295.07 L587.67 295.00 L587.91 294.93 L588.16 294.85 L588.40 294.78 L588.65 294.71 L588.89 294.64 L589.14 294.58 L589.38 294.51 L589.63 294.45 L589.88 294.38 L590.12 294.32 L590.37 294.26 L590.61 294.20 L590.86 294.14 L591.11 294.08 L591.35 294.02 L591.60 293.97 L591.84 293.91 L592.09 293.86 L592.34 293.81 L592.58 293.76 L592.83 293.71 L593.08 293.66 L593.32 293.61 L593.57 293.57 L593.82 293.52 L594.07 293.48 L594.31 293.44 L594.56 293.39 L594.81 293.35 L595.05 293.31 L595.30 293.26 L595.55 293.22 L595.80 293.18 L596.04 293.14 L596.29 293.10 L596.54 293.06 L596.78 293.02 L597.03 292.98 L597.28 292.94 L597.53 292.90 L597.77 292.86 L598.02 292.82 L598.27 292.78 L598.52 292.75 L598.76 292.71 L599.01 292.67 L599.26 292.63 L599.51 292.60 L599.75 292.56 L600.00 292.53 L600.25 292.49 L600.50 292.46 L600.74 292.42 L600.99 292.39 L601.24 292.35 L601.49 292.32 L601.74 292.29 L601.98 292.25 L602.23 292.22 L602.48 292.19 L602.73 292.16 L602.98 292.13 L603.22 292.09 L603.47 292.06 L603.72 292.03 L603.97 292.00 L604.21 291.97 L604.46 291.94 L604.71 291.91 L604.96 291.89 L605.21 291.86 L605.46 291.83 L605.70 291.80 L605.95 291.77 L606.20 291.75 L606.45 291.72 L606.70 291.69 L606.95 291.67 L607.20 291.64 L607.45 291.62 L607.70 291.59 L607.95 291.57 L608.20 291.54 L608.45 291.52 L608.70 291.50 L608.95 291.47 L609.20 291.45 L609.45 291.43 L609.70 291.41 L609.95 291.38 L610.20 291.36 L610.45 291.34 L610.70 291.32 L610.95 291.30 L611.20 291.28 L611.45 291.26 L611.70 291.24 L611.95 291.22 L612.20 291.20 L612.45 291.18 L612.70 291.16 L612.95 291.15 L613.20 291.13 L613.45 291.11 L613.70 291.09 L613.95 291.07 L614.20 291.06 L614.45 291.04 L614.70 291.02 L614.95 291.00 L617.88 290.82 L620.80 290.65 L623.73 290.49 L626.65 290.34 L629.58 290.17 L632.51 290.00 L635.43 289.83 L638.36 289.67 L641.28 289.50 L644.21 289.34 L647.14 289.18 L650.06 289.01 L652.99 288.85 L655.91 288.68 L658.84 288.51 L661.77 288.34 L664.69 288.17 L667.62 287.98 L670.54 287.78 L673.47 287.58 L676.40 287.36 L679.32 287.15 L682.25 286.93 L685.18 286.72 L688.10 286.52 L691.03 286.33 L693.95 286.15 L696.88 285.99 L699.81 285.86 L702.73 285.74 L705.66 285.63 L708.58 285.53 L711.51 285.44 L714.44 285.35 L717.36 285.27 L720.29 285.18 L723.21 285.10 L726.14 285.02 L729.07 284.94 L731.99 284.85 L734.92 284.75 L737.84 284.65 L740.77 284.54 L743.70 284.43 L746.62 284.31 L749.55 284.19 L752.47 284.07 L755.40 283.96 L758.33 283.84 L761.25 283.73 L764.18 283.63 L767.10 283.54 L770.03 283.45 L772.96 283.37 L775.88 283.29 L778.81 283.22 L781.73 283.16 L784.66 283.09 L787.59 283.03 L790.51 282.97 L793.44 282.91 L796.37 282.84 L799.29 282.78 L802.22 282.71 L805.14 282.65 L808.07 282.57 L811.00 282.49 L813.92 282.42 L816.85 282.33 L819.77 282.25 L822.70 282.17 L825.63 282.09 L828.55 282.01 L831.48 281.94 L834.40 281.87 L837.33 281.80 L840.26 281.74 L843.18 281.69 L846.11 281.64 L849.03 281.59 L851.96 281.54 L854.89 281.50 L857.81 281.45 L860.74 281.41 L863.66 281.37 L866.59 281.33 L869.52 281.29 L872.44 281.26 L875.37 281.22 L878.29 281.18 L881.22 281.15 L884.15 281.11 L887.07 281.07 L890.00 281.03 L892.92 281.00 L895.85 280.96 L898.78 280.92 L901.70 280.88 L904.63 280.83 L907.56 280.79 L910.48 280.74 L913.41 280.69 L916.33 280.65 L919.26 280.60 L922.19 280.55 L925.11 280.50 L928.04 280.45 L930.96 280.39 L933.89 280.34 L936.82 280.29 L939.74 280.23 L942.67 280.18 L945.59 280.13 L948.52 280.07 L951.45 280.01 L954.37 279.96 L957.30 279.90 L960.22 279.84 L963.15 279.79"/>
<path stroke="#ff00ff" d="M963.15 264.77 L960.22 264.81 L957.30 264.85 L954.37 264.89 L951.45 264.94 L948.52 264.99 L945.59 265.03 L942.67 265.08 L939.74 265.14 L936.82 265.19 L933.89 265.25 L930.96 265.30 L928.04 265.36 L925.11 265.42 L922.19 265.48 L919.26 265.54 L916.33 265.61 L913.41 265.67 L910.48 265.74 L907.56 265.81 L904.63 265.88 L901.70 265.95 L898.78 266.02 L895.85 266.10 L892.92 266.18 L890.00 266.26 L887.07 266.35 L884.15 266.43 L881.22 266.52 L878.29 266.61 L875.37 266.71 L872.44 266.80 L869.52 266.90 L866.59 266.99 L863.66 267.09 L860.74 267.19 L857.81 267.30 L854.89 267.40 L851.96 267.51 L849.03 267.61 L846.11 267.72 L843.18 267.83 L840.26 267.94 L837.33 268.05 L834.40 268.17 L831.48 268.28 L828.55 268.41 L825.63 268.53 L822.70 268.66 L819.77 268.79 L816.85 268.92 L813.92 269.06 L811.00 269.20 L808.07 269.33 L805.14 269.48 L802.22 269.62 L799.29 269.76 L796.37 269.91 L793.44 270.05 L790.51 270.20 L787.59 270.35 L784.66 270.50 L781.73 270.65 L778.81 270.80 L775.88 270.95 L772.96 271.10 L770.03 271.25 L767.10 271.39 L764.18 271.54 L761.25 271.70 L758.33 271.85 L755.40 272.00 L752.47 272.16 L749.55 272.31 L746.62 272.47 L743.70 272.64 L740.77 272.81 L737.84 272.98 L734.92 273.15 L731.99 273.33 L729.07 273.52 L726.14 273.71 L723.21 273.90 L720.29 274.10 L717.36 274.30 L714.44 274.50 L711.51 274.71 L708.58 274.92 L705.66 275.13 L702.73 275.35 L699.81 275.56 L696.88 275.78 L693.95 276.00 L691.03 276.22 L688.10 276.44 L685.18 276.67 L682.25 276.90 L679.32 277.13 L676.40 277.37 L673.47 277.62 L670.54 277.86 L667.62 278.12 L664.69 278.37 L661.77 278.63 L658.84 278.89 L655.91 279.15 L652.99 279.41 L650.06 279.68 L647.14 279.96 L644.21 280.24 L641.28 280.54 L638.36 280.85 L635.43 281.18 L632.51 281.53 L629.58 281.90 L626.65 282.30 L623.73 282.75 L620.80 283.24 L617.88 283.75 L614.95 284.29 L614.70 284.33 L614.45 284.38 L614.20 284.43 L613.95 284.47 L613.70 284.52 L613.45 284.57 L613.20 284.61 L612.95 284.66 L612.70 284.71 L612.45 284.75 L612.20 284.80 L611.95 284.85 L611.70 284.89 L611.45 284.94 L611.20 284.99 L610.95 285.04 L610.70 285.08 L610.45 285.13 L610.20 285.18 L609.95 285.23 L609.70 285.27 L609.45 285.32 L609.20 285.37 L608.95 285.41 L608.70 285.46 L608.45 285.51 L608.20 285.56 L607.95 285.60 L607.70 285.65 L607.45 285.70 L607.20 285.74 L606.95 285.79 L606.70 285.84 L606.45 285.89 L606.20 285.94 L605.95 285.98 L605.70 286.03 L605.45 286.08 L605.20 286.13 L604.95 286.18 L604.70 286.22 L604.45 286.27 L604.20 286.32 L603.95 286.37 L603.70 286.42 L603.45 286.47 L603.20 286.52 L602.95 286.57 L602.70 286.62 L602.45 286.67 L602.20 286.72 L601.95 286.77 L601.70 286.83 L601.45 286.88 L601.20 286.93 L600.95 286.98 L600.70 287.04 L600.45 287.09 L600.20 287.14 L599.95 287.20 L599.70 287.25 L599.45 287.31 L599.20 287.36 L598.95 287.42 L598.70 287.47 L598.45 287.53 L598.20 287.59 L597.95 287.65 L597.70 287.70 L597.45 287.76 L597.20 287.82 L596.95 287.88 L596.70 287.94 L596.45 288.00 L596.20 288.06 L595.95 288.13 L595.70 288.19 L595.45 288.25 L595.20 288.31 L594.95 288.38 L594.70 288.44 L594.45 288.51 L594.20 288.58 L593.95 288.64 L593.70 288.71 L593.45 288.78 L593.20 288.85 L592.95 288.91 L592.70 288.98 L592.45 289.05 L592.20 289.12 L591.95 289.19 L591.70 289.26 L591.45 289.33 L591.20 289.40 L590.95 289.47 L590.70 289.54 L590.45 289.62 L590.20 289.69 L589.95 289.76 L589.70 289.83 L589.45 289.91 L589.20 289.98 L588.95 290.06 L588.70 290.13 L588.45 290.21 L588.20 290.29 L587.95 290.37 L587.70 290.45 L587.45 290.53 L587.20 290.61 L586.95 290.69 L586.70 290.77 L586.45 290.85 L586.20 290.94 L585.95 291.02 L585.70 291.11 L585.45 291.19 L585.20 291.28 L584.95 291.37 L584.70 291.46 L584.45 291.55 L584.20 291.64 L583.95 291.74 L583.69 291.83 L583.44 291.93 L583.18 292.03 L582.93 292.12 L582.67 292.22 L582.41 292.32 L582.15 292.43 L581.90 292.53 L581.64 292.64 L581.38 292.74 L581.13 292.85 L580.87 292.96 L580.61 293.07 L580.35 293.18 L580.10 293.30 L579.84 293.41 L579.58 293.53 L579.32 293.65 L579.07 293.77 L578.81 293.89 L578.55 294.02 L578.29 294.14 L578.03 294.27 L577.77 294.40 L577.51 294.53 L577.26 294.67 L577.00 294.80 L576.74 294.94 L576.48 295.08 L576.22 295.22 L575.96 295.37 L575.70 295.53 L575.44 295.70 L575.18 295.87 L574.91 296.05 L574.65 296.23 L574.39 296.42 L574.13 296.61 L573.86 296.82 L573.60 297.02 L573.33 297.23 L573.07 297.45 L572.81 297.67 L572.54 297.90 L572.27 298.13 L572.01 298.37 L571.74 298.61 L571.48 298.85 L571.21 299.10 L570.94 299.35 L570.68 299.61 L570.41 299.87 L570.14 300.13 L569.87 300.40 L569.61 300.66 L569.34 300.94 L569.07 301.21 L568.80 301.49 L568.53 301.77 L568.26 302.05 L567.99 302.34 L567.73 302.62 L567.46 302.91 L567.19 303.20 L566.92 303.49 L566.65 303.78 L566.38 304.08 L566.11 304.37 L565.84 304.67 L565.57 304.97 L565.30 305.26 L565.03 305.56 L564.76 305.86 L564.49 306.15 L564.22 306.45 L563.95 306.75 L563.70 307.05 L563.44 307.36 L563.19 307.67 L562.93 307.99 L562.68 308.31 L562.42 308.64 L562.17 308.97 L561.92 309.31 L561.66 309.65 L561.41 310.00 L561.15 310.35 L560.90 310.71 L560.64 311.07 L560.39 311.43 L560.13 311.80 L559.88 312.16 L559.62 312.54 L559.37 312.91 L559.11 313.29 L558.86 313.67 L558.60 314.05 L558.35 314.43 L558.09 314.81 L557.84 315.20 L557.58 315.59 L557.33 315.97 L557.07 316.36 L556.82 316.75 L556.56 317.14 L556.31 317.54 L556.05 317.94 L555.80 318.35 L555.54 318.76 L555.28 319.18 L555.03 319.60 L554.77 320.03 L554.52 320.45 L554.26 320.88 L554.01 321.32 L553.75 321.75 L553.51 322.18 L553.26 322.62 L553.02 323.05 L552.77 323.47 L552.53 323.90 L552.28 324.32 L552.04 324.74 L551.80 325.15 L551.55 325.56 L551.31 325.96 L551.06 326.36 L550.82 326.75 L550.57 327.14 L550.33 327.53 L550.08 327.91 L549.84 328.30 L549.59 328.69 L549.35 329.07 L549.10 329.45 L548.86 329.83 L548.61 330.21 L548.37 330.59 L548.12 330.96 L547.88 331.34 L547.63 331.70 L547.39 332.07 L547.14 332.43 L546.90 332.79 L546.65 333.15 L546.41 333.50 L546.16 333.85 L545.92 334.19 L545.67 334.53 L545.42 334.86 L545.18 335.19 L544.93 335.51 L544.69 335.83 L544.44 336.14 L544.20 336.45 L543.95 336.75 L543.72 337.05 L543.49 337.35 L543.26 337.64 L543.03 337.94 L542.80 338.24 L542.57 338.53 L542.34 338.83 L542.11 339.13 L541.88 339.42 L541.65 339.72 L541.42 340.01 L541.19 340.30 L540.96 340.59 L540.73 340.88 L540.49 341.16 L540.26 341.45 L540.03 341.73 L539.80 342.01 L539.57 342.29 L539.34 342.56 L539.11 342.84 L538.87 343.10 L538.64 343.37 L538.41 343.63 L538.18 343.89 L537.94 344.15 L537.71 344.40 L537.48 344.65 L537.24 344.89 L537.01 345.13 L536.77 345.37 L536.54 345.60 L536.31 345.83 L536.07 346.05 L535.83 346.27 L535.60 346.48 L535.36 346.68 L535.13 346.89 L534.89 347.08 L534.65 347.27 L534.41 347.45 L534.18 347.63 L533.94 347.80 L533.70 347.97 L533.46 348.13 L533.22 348.28 L532.98 348.42 L532.74 348.56 L532.50 348.70 L532.26 348.83 L532.01 348.97 L531.77 349.10 L531.53 349.23 L531.29 349.36 L531.05 349.48 L530.81 349.61 L530.57 349.73 L530.32 349.85 L530.08 349.97 L529.84 350.09 L529.60 350.20 L529.35 350.32 L529.11 350.43 L528.87 350.54 L528.63 350.65 L528.38 350.76 L528.14 350.86 L527.90 350.97 L527.65 351.07 L527.41 351.18 L527.17 351.28 L526.93 351.38 L526.68 351.47 L526.44 351.57 L526.19 351.67 L525.95 351.76 L525.70 351.86 L525.45 351.95 L525.20 352.04 L524.95 352.13 L524.70 352.22 L524.45 352.31 L524.20 352.39 L523.95 352.48 L523.70 352.56 L523.45 352.65 L523.20 352.73 L522.95 352.81 L522.70 352.89 L522.45 352.97 L522.20 353.05 L521.95 353.13 L521.70 353.21 L521.45 353.29 L521.20 353.37 L520.95 353.44 L520.70 353.52 L520.45 353.59 L520.20 353.67 L519.95 353.74 L519.70 353.81 L519.45 353.88 L519.20 353.96 L518.95 354.03 L518.70 354.10 L518.45 354.17 L518.20 354.24 L517.95 354.31 L517.70 354.38 L517.45 354.45 L517.20 354.52 L516.95 354.59 L516.70 354.65 L516.45 354.72 L516.20 354.79 L515.95 354.86 L515.70 354.92 L515.45 354.99 L515.20 355.06 L514.95 355.12 L514.70 355.19 L514.45 355.25 L514.20 355.31 L513.95 355.37 L513.70 355.44 L513.45 355.50 L513.20 355.56 L512.95 355.62 L512.70 355.68 L512.45 355.74 L512.20 355.80 L511.95 355.85 L511.70 355.91 L511.45 355.97 L511.20 356.03 L510.95 356.08 L510.70 356.14 L510.45 356.19 L510.20 356.25 L509.95 356.30 L509.70 356.36 L509.45 356.41 L509.20 356.46 L508.95 356.52 L508.70 356.57 L508.45 356.62 L508.20 356.67 L507.95 356.73 L507.70 356.78 L507.45 356.83 L507.20 356.88 L506.95 356.93 L506.70 356.98 L506.45 357.03 L506.20 357.08 L505.95 357.13 L505.70 357.18 L505.45 357.23 L505.20 357.28 L504.95 357.32 L504.70 357.37 L504.45 357.42 L504.20 357.47 L503.95 357.52 L503.70 357.56 L503.45 357.61 L503.20 357.66 L502.95 357.71 L502.70 357.76 L502.45 357.80 L502.20 357.85 L501.95 357.90 L501.70 357.94 L501.45 357.99 L501.20 358.04 L500.95 358.09 L500.70 358.13 L500.45 358.18 L500.20 358.23 L499.95 358.27 L499.70 358.32 L499.45 358.37 L499.20 358.42 L498.95 358.46 L498.70 358.51 L498.45 358.56 L498.20 358.61 L497.95 358.65 L497.70 358.70 L497.45 358.75 L497.20 358.79 L496.95 358.84 L496.70 358.89 L496.45 358.93 L496.20 358.98 L495.95 359.03 L495.70 359.07 L495.45 359.12 L495.20 359.17 L494.95 359.21 L492.02 359.75 L489.10 360.26 L486.17 360.75 L483.25 361.20 L480.32 361.60 L477.39 361.97 L474.47 362.32 L471.54 362.65 L468.62 362.96 L465.69 363.26 L462.76 363.54 L459.84 363.82 L456.91 364.09 L453.99 364.35 L451.06 364.61 L448.13 364.87 L445.21 365.13 L442.28 365.38 L439.36 365.64 L436.43 365.88 L433.50 366.13 L430.58 366.37 L427.65 366.60 L424.72 366.83 L421.80 367.06 L418.87 367.28 L415.95 367.50 L413.02 367.72 L410.09 367.94 L407.17 368.15 L404.24 368.37 L401.32 368.58 L398.39 368.79 L395.46 369.00 L392.54 369.20 L389.61 369.40 L386.69 369.60 L383.76 369.79 L380.83 369.98 L377.91 370.17 L374.98 370.35 L372.06 370.52 L369.13 370.69 L366.20 370.86 L363.28 371.03 L360.35 371.19 L357.43 371.34 L354.50 371.50 L351.57 371.65 L348.65 371.80 L345.72 371.96 L342.80 372.11 L339.87 372.25 L336.94 372.40 L334.02 372.55 L331.09 372.70 L328.17 372.85 L325.24 373.00 L322.31 373.15 L319.39 373.30 L316.46 373.45 L313.53 373.59 L310.61 373.74 L307.68 373.88 L304.76 374.02 L301.83 374.17 L298.90 374.30 L295.98 374.44 L293.05 374.58 L290.13 374.71 L287.20 374.84 L284.27 374.97 L281.35 375.09 L278.42 375.22 L275.50 375.33 L272.57 375.45 L269.64 375.56 L266.72 375.67 L263.79 375.78 L260.87 375.89 L257.94 375.99 L255.01 376.10 L252.09 376.20 L249.16 376.31 L246.24 376.41 L243.31 376.51 L240.38 376.60 L237.46 376.70 L234.53 376.79 L231.61 376.89 L228.68 376.98 L225.75 377.07 L222.83 377.15 L219.90 377.24 L216.98 377.32 L214.05 377.40 L211.12 377.48 L208.20 377.55 L205.27 377.62 L202.34 377.69 L199.42 377.76 L196.49 377.83 L193.57 377.89 L190.64 377.96 L187.71 378.02 L184.79 378.08 L181.86 378.14 L178.94 378.20 L176.01 378.25 L173.08 378.31 L170.16 378.36 L167.23 378.42 L164.31 378.47 L161.38 378.51 L158.45 378.56 L155.53 378.61 L152.60 378.65 L149.68 378.69 L146.75 378.73 L146.75 378.73 L149.68 378.69 L152.60 378.65 L155.53 378.61 L158.45 378.56 L161.38 378.51 L164.31 378.47 L167.23 378.42 L170.16 378.36 L173.08 378.31 L176.01 378.25 L178.94 378.20 L181.86 378.14 L184.79 378.08 L187.71 378.02 L190.64 377.96 L193.57 377.89 L196.49 377.83 L199.42 377.76 L202.34 377.69 L205.27 377.62 L208.20 377.55 L211.12 377.48 L214.05 377.40 L216.98 377.32 L219.90 377.24 L222.83 377.15 L225.75 377.07 L228.68 376.98 L231.61 376.89 L234.53 376.79 L237.46 376.70 L240.38 376.60 L243.31 376.51 L246.24 376.41 L249.16 376.31 L252.09 376.20 L255.01 376.10 L257.94 375.99 L260.87 375.89 L263.79 375.78 L266.72 375.67 L269.64 375.56 L272.57 375.45 L275.50 375.33 L278.42 375.22 L281.35 375.09 L284.27 374.97 L287.20 374.84 L290.13 374.71 L293.05 374.58 L295.98 374.44 L298.90 374.30 L301.83 374.17 L304.76 374.02 L307.68 373.88 L310.61 373.74 L313.53 373.59 L316.46 373.45 L319.39 373.30 L322.31 373.15 L325.24 373.00 L328.17 372.85 L331.09 372.70 L334.02 372.55 L336.94 372.40 L339.87 372.25 L342.80 372.11 L345.72 371.96 L348.65 371.80 L351.57 371.65 L354.50 371.50 L357.43 371.34 L360.35 371.19 L363.28 371.03 L366.20 370.86 L369.13 370.69 L372.06 370.52 L374.98 370.35 L377.91 370.17 L380.83 369.98 L383.76 369.79 L386.69 369.60 L389.61 369.40 L392.54 369.20 L395.46 369.00 L398.39 368.79 L401.32 368.58 L404.24 368.37 L407.17 368.15 L410.09 367.94 L413.02 367.72 L415.95 367.50 L418.87 367.28 L421.80 367.06 L424.72 366.83 L427.65 366.60 L430.58 366.37 L433.50 366.13 L436.43 365.88 L439.36 365.64 L442.28 365.38 L445.21 365.13 L448.13 364.87 L451.06 364.61 L453.99 364.35 L456.91 364.09 L459.84 363.82 L462.76 363.54 L465.69 363.26 L468.62 362.96 L471.54 362.65 L474.47 362.32 L477.39 361.97 L480.32 361.60 L483.25 361.20 L486.17 360.75 L489.10 360.26 L492.02 359.75 L494.95 359.21 L495.20 359.17 L495.45 359.12 L495.70 359.07 L495.95 359.03 L496.20 358.98 L496.45 358.93 L496.70 358.89 L496.95 358.84 L497.20 358.79 L497.45 358.75 L497.70 358.70 L497.95 358.65 L498.20 358.61 L498.45 358.56 L498.70 358.51 L498.95 358.46 L499.20 358.42 L499.45 358.37 L499.70 358.32 L499.95 358.27 L500.20 358.23 L500.45 358.18 L500.70 358.13 L500.95 358.09 L501.20 358.04 L501.45 357.99 L501.70 357.94 L501.95 357.90 L502.20 357.85 L502.45 357.80 L502.70 357.76 L502.95 357.71 L503.20 357.66 L503.45 357.61 L503.70 357.56 L503.95 357.52 L504.20 357.47 L504.45 357.42 L504.70 357.37 L504.95 357.32 L505.20 357.28 L505.45 357.23 L505.70 357.18 L505.95 357.13 L506.20 357.08 L506.45 357.03 L506.70 356.98 L506.95 356.93 L507.20 356.88 L507.45 356.83 L507.70 356.78 L507.95 356.73 L508.20 356.67 L508.45 356.62 L508.70 356.57 L508.95 356.52 L509.20 356.46 L509.45 356.41 L509.70 356.36 L509.95 356.30 L510.20 356.25 L510.45 356.19 L510.70 356.14 L510.95 356.08 L511.20 356.03 L511.45 355.97 L511.70 355.91 L511.95 355.85 L512.20 355.80 L512.45 355.74 L512.70 355.68 L512.95 355.62 L513.20 355.56 L513.45 355.50 L513.70 355.44 L513.95 355.37 L514.20 355.31 L514.45 355.25 L514.70 355.19 L514.95 355.12 L515.20 355.06 L515.45 354.99 L515.70 354.92 L515.95 354.86 L516.20 354.79 L516.45 354.72 L516.70 354.65 L516.95 354.59 L517.20 354.52 L517.45 354.45 L517.70 354.38 L517.95 354.31 L518.20 354.24 L518.45 354.17 L518.70 354.10 L518.95 354.03 L519.20 353.96 L519.45 353.88 L519.70 353.81 L519.95 353.74 L520.20 353.67 L520.45 353.59 L520.70 353.52 L520.95 353.44 L521.20 353.37 L521.45 353.29 L521.70 353.21 L521.95 353.13 L522.20 353.05 L522.45 352.97 L522.70 352.89 L522.95 352.81 L523.20 352.73 L523.45 352.65 L523.70 352.56 L523.95 352.48 L524.20 352.39 L524.45 352.31 L524.70 352.22 L524.95 352.13 L525.20 352.04 L525.45 351.95 L525.70 351.86 L525.95 351.76 L526.21 351.67 L526.46 351.57 L526.72 351.47 L526.97 351.38 L527.23 351.28 L527.49 351.18 L527.75 351.07 L528.00 350.97 L528.26 350.86 L528.52 350.76 L528.77 350.65 L529.03 350.54 L529.29 350.43 L529.55 350.32 L529.80 350.20 L530.06 350.09 L530.32 349.97 L530.58 349.85 L530.83 349.73 L531.09 349.61 L531.35 349.48 L531.61 349.36 L531.87 349.23 L532.13 349.10 L532.39 348.97 L532.64 348.83 L532.90 348.70 L533.16 348.56 L533.42 348.42 L533.68 348.28 L533.94 348.13 L534.20 347.97 L534.46 347.80 L534.72 347.63 L534.99 347.45 L535.25 347.27 L535.51 347.08 L535.77 346.89 L536.04 346.68 L536.30 346.48 L536.57 346.27 L536.83 346.05 L537.09 345.83 L537.36 345.60 L537.63 345.37 L537.89 345.13 L538.16 344.89 L538.42 344.65 L538.69 344.40 L538.96 344.15 L539.22 343.89 L539.49 343.63 L539.76 343.37 L540.03 343.10 L540.29 342.84 L540.56 342.56 L540.83 342.29 L541.10 342.01 L541.37 341.73 L541.64 341.45 L541.91 341.16 L542.17 340.88 L542.44 340.59 L542.71 340.30 L542.98 340.01 L543.25 339.72 L543.52 339.42 L543.79 339.13 L544.06 338.83 L544.33 338.53 L544.60 338.24 L544.87 337.94 L545.14 337.64 L545.41 337.35 L545.68 337.05 L545.95 336.75 L546.20 336.45 L546.46 336.14 L546.71 335.83 L546.97 335.51 L547.22 335.19 L547.48 334.86 L547.73 334.53 L547.98 334.19 L548.24 333.85 L548.49 333.50 L548.75 333.15 L549.00 332.79 L549.26 332.43 L549.51 332.07 L549.77 331.70 L550.02 331.34 L550.28 330.96 L550.53 330.59 L550.79 330.21 L551.04 329.83 L551.30 329.45 L551.55 329.07 L551.81 328.69 L552.06 328.30 L552.32 327.91 L552.57 327.53 L552.83 327.14 L553.08 326.75 L553.34 326.36 L553.59 325.96 L553.85 325.56 L554.10 325.15 L554.36 324.74 L554.62 324.32 L554.87 323.90 L555.13 323.47 L555.38 323.05 L555.64 322.62 L555.89 322.18 L556.15 321.75 L556.39 321.32 L556.64 320.88 L556.88 320.45 L557.13 320.03 L557.37 319.60 L557.62 319.18 L557.86 318.76 L558.10 318.35 L558.35 317.94 L558.59 317.54 L558.84 317.14 L559.08 316.75 L559.33 316.36 L559.57 315.97 L559.82 315.59 L560.06 315.20 L560.31 314.81 L560.55 314.43 L560.80 314.05 L561.04 313.67 L561.29 313.29 L561.53 312.91 L561.78 312.54 L562.02 312.16 L562.27 311.80 L562.51 311.43 L562.76 311.07 L563.00 310.71 L563.25 310.35 L563.49 310.00 L563.74 309.65 L563.98 309.31 L564.23 308.97 L564.48 308.64 L564.72 308.31 L564.97 307.99 L565.21 307.67 L565.46 307.36 L565.70 307.05 L565.95 306.75 L566.18 306.45 L566.41 306.15 L566.64 305.86 L566.87 305.56 L567.10 305.26 L567.33 304.97 L567.56 304.67 L567.79 304.37 L568.02 304.08 L568.25 303.78 L568.48 303.49 L568.71 303.20 L568.94 302.91 L569.17 302.62 L569.41 302.34 L569.64 302.05 L569.87 301.77 L570.10 301.49 L570.33 301.21 L570.56 300.94 L570.79 300.66 L571.03 300.40 L571.26 300.13 L571.49 299.87 L571.72 299.61 L571.96 299.35 L572.19 299.10 L572.42 298.85 L572.66 298.61 L572.89 298.37 L573.13 298.13 L573.36 297.90 L573.59 297.67 L573.83 297.45 L574.07 297.23 L574.30 297.02 L574.54 296.82 L574.77 296.61 L575.01 296.42 L575.25 296.23 L575.49 296.05 L575.72 295.87 L575.96 295.70 L576.20 295.53 L576.44 295.37 L576.68 295.22 L576.92 295.08 L577.16 294.94 L577.40 294.80 L577.64 294.67 L577.89 294.53 L578.13 294.40 L578.37 294.27 L578.61 294.14 L578.85 294.02 L579.09 293.89 L579.33 293.77 L579.58 293.65 L579.82 293.53 L580.06 293.41 L580.30 293.30 L580.55 293.18 L580.79 293.07 L581.03 292.96 L581.27 292.85 L581.52 292.74 L581.76 292.64 L582.00 292.53 L582.25 292.43 L582.49 292.32 L582.73 292.22 L582.97 292.12 L583.22 292.03 L583.46 291.93 L583.71 291.83 L583.95 291.74 L584.20 291.64 L584.45 291.55 L584.70 291.46 L584.95 291.37 L585.20 291.28 L585.45 291.19 L585.70 291.11 L585.95 291.02 L586.20 290.94 L586.45 290.85 L586.70 290.77 L586.95 290.69 L587.20 290.61 L587.45 290.53 L587.70 290.45 L587.95 290.37 L588.20 290.29 L588.45 290.21 L588.70 290.13 L588.95 290.06 L589.20 289.98 L589.45 289.91 L589.70 289.83 L589.95 289.76 L590.20 289.69 L590.45 289.62 L590.70 289.54 L590.95 289.47 L591.20 289.40 L591.45 289.33 L591.70 289.26 L591.95 289.19 L592.20 289.12 L592.45 289.05 L592.70 288.98 L592.95 288.91 L593.20 288.85 L593.45 288.78 L593.70 288.71 L593.95 288.64 L594.20 288.58 L594.45 288.51 L594.70 288.44 L594.95 288.38 L595.20 288.31 L595.45 288.25 L595.70 288.19 L595.95 288.13 L596.20 288.06 L596.45 288.00 L596.70 287.94 L596.95 287.88 L597.20 287.82 L597.45 287.76 L597.70 287.70 L597.95 287.65 L598.20 287.59 L598.45 287.53 L598.70 287.47 L598.95 287.42 L599.20 287.36 L599.45 287.31 L599.70 287.25 L599.95 287.20 L600.20 287.14 L600.45 287.09 L600.70 287.04 L600.95 286.98 L601.20 286.93 L601.45 286.88 L601.70 286.83 L601.95 286.77 L602.20 286.72 L602.45 286.67 L602.70 286.62 L602.95 286.57 L603.20 286.52 L603.45 286.47 L603.70 286.42 L603.95 286.37 L604.20 286.32 L604.45 286.27 L604.70 286.22 L604.95 286.18 L605.20 286.13 L605.45 286.08 L605.70 286.03 L605.95 285.98 L606.20 285.94 L606.45 285.89 L606.70 285.84 L606.95 285.79 L607.20 285.74 L607.45 285.70 L607.70 285.65 L607.95 285.60 L608.20 285.56 L608.45 285.51 L608.70 285.46 L608.95 285.41 L609.20 285.37 L609.45 285.32 L609.70 285.27 L609.95 285.23 L610.20 285.18 L610.45 285.13 L610.70 285.08 L610.95 285.04 L611.20 284.99 L611.45 284.94 L611.70 284.89 L611.95 284.85 L612.20 284.80 L612.45 284.75 L612.70 284.71 L612.95 284.66 L613.20 284.61 L613.45 284.57 L613.70 284.52 L613.95 284.47 L614.20 284.43 L614.45 284.38 L614.70 284.33 L614.95 284.29 L617.88 283.75 L620.80 283.24 L623.73 282.75 L626.65 282.30 L629.58 281.90 L632.51 281.53 L635.43 281.18 L638.36 280.85 L641.28 280.54 L644.21 280.24 L647.14 279.96 L650.06 279.68 L652.99 279.41 L655.91 279.15 L658.84 278.89 L661.77 278.63 L664.69 278.37 L667.62 278.12 L670.54 277.86 L673.47 277.62 L676.40 277.37 L679.32 277.13 L682.25 276.90 L685.18 276.67 L688.10 276.44 L691.03 276.22 L693.95 276.00 L696.88 275.78 L699.81 275.56 L702.73 275.35 L705.66 275.13 L708.58 274.92 L711.51 274.71 L714.44 274.50 L717.36 274.30 L720.29 274.10 L723.21 273.90 L726.14 273.71 L729.07 273.52 L731.99 273.33 L734.92 273.15 L737.84 272.98 L740.77 272.81 L743.70 272.64 L746.62 272.47 L749.55 272.31 L752.47 272.16 L755.40 272.00 L758.33 271.85 L761.25 271.70 L764.18 271.54 L767.10 271.39 L770.03 271.25 L772.96 271.10 L775.88 270.95 L778.81 270.80 L781.73 270.65 L784.66 270.50 L787.59 270.35 L790.51 270.20 L793.44 270.05 L796.37 269.91 L799.29 269.76 L802.22 269.62 L805.14 269.48 L808.07 269.33 L811.00 269.20 L813.92 269.06 L816.85 268.92 L819.77 268.79 L822.70 268.66 L825.63 268.53 L828.55 268.41 L831.48 268.28 L834.40 268.17 L837.33 268.05 L840.26 267.94 L843.18 267.83 L846.11 267.72 L849.03 267.61 L851.96 267.51 L854.89 267.40 L857.81 267.30 L860.74 267.19 L863.66 267.09 L866.59 266.99 L869.52 266.90 L872.44 266.80 L875.37 266.71 L878.29 266.61 L881.22 266.52 L884.15 266.43 L887.07 266.35 L890.00 266.26 L892.92 266.18 L895.85 266.10 L898.78 266.02 L901.70 265.95 L904.63 265.88 L907.56 265.81 L910.48 265.74 L913.41 265.67 L916.33 265.61 L919.26 265.54 L922.19 265.48 L925.11 265.42 L928.04 265.36 L930.96 265.30 L933.89 265.25 L936.82 265.19 L939.74 265.14 L942.67 265.08 L945.59 265.03 L948.52 264.99 L951.45 264.94 L954.37 264.89 L957.30 264.85 L960.22 264.81 L963.15 264.77"/>
<path stroke="#008000" d="M963.15 59.25 L960.22 59.25 L957.30 59.26 L954.37 59.27 L951.45 59.28 L948.52 59.29 L945.59 59.31 L942.67 59.33 L939.74 59.35 L936.82 59.41 L933.89 59.51 L930.96 59.64 L928.04 59.79 L925.11 59.94 L922.19 60.10 L919.26 60.29 L916.33 60.50 L913.41 60.71 L910.48 60.93 L907.56 61.13 L904.63 61.33 L901.70 61.54 L898.78 61.74 L895.85 61.95 L892.92 62.16 L890.00 62.38 L887.07 62.62 L884.15 62.86 L881.22 63.11 L878.29 63.37 L875.37 63.63 L872.44 63.89 L869.52 64.15 L866.59 64.42 L863.66 64.68 L860.74 64.96 L857.81 65.23 L854.89 65.50 L851.96 65.77 L849.03 66.03 L846.11 66.29 L843.18 66.54 L840.26 66.80 L837.33 67.10 L834.40 67.41 L831.48 67.75 L828.55 68.09 L825.63 68.45 L822.70 68.81 L819.77 69.17 L816.85 69.53 L813.92 69.90 L811.00 70.27 L808.07 70.65 L805.14 71.02 L802.22 71.40 L799.29 71.78 L796.37 72.16 L793.44 72.55 L790.51 72.93 L787.59 73.32 L784.66 73.71 L781.73 74.10 L778.81 74.51 L775.88 74.91 L772.96 75.32 L770.03 75.75 L767.10 76.21 L764.18 76.70 L761.25 77.22 L758.33 77.75 L755.40 78.29 L752.47 78.83 L749.55 79.38 L746.62 79.92 L743.70 80.47 L740.77 81.02 L737.84 81.58 L734.92 82.14 L731.99 82.69 L729.07 83.24 L726.14 83.78 L723.21 84.32 L720.29 84.85 L717.36 85.39 L714.44 85.92 L711.51 86.46 L708.58 87.00 L705.66 87.53 L702.73 88.07 L699.81 88.63 L696.88 89.25 L693.95 89.93 L691.03 90.64 L688.10 91.36 L685.18 92.11 L682.25 92.89 L679.32 93.70 L676.40 94.55 L673.47 95.44 L670.54 96.36 L667.62 97.32 L664.69 98.32 L661.77 99.35 L658.84 100.41 L655.91 101.53 L652.99 102.68 L650.06 103.83 L647.14 104.94 L644.21 106.05 L641.28 107.20 L638.36 108.44 L635.43 109.79 L632.51 111.19 L629.58 112.64 L626.65 114.09 L623.73 115.58 L620.80 117.12 L617.88 118.77 L614.95 120.53 L614.70 120.69 L614.45 120.84 L614.20 121.00 L613.95 121.16 L613.70 121.31 L613.45 121.47 L613.20 121.63 L612.95 121.79 L612.70 121.95 L612.45 122.11 L612.20 122.27 L611.95 122.43 L611.70 122.59 L611.45 122.76 L611.20 122.92 L610.95 123.08 L610.70 123.24 L610.45 123.40 L610.20 123.56 L609.95 123.72 L609.70 123.88 L609.45 124.04 L609.20 124.20 L608.95 124.36 L608.70 124.52 L608.45 124.68 L608.20 124.84 L607.95 125.00 L607.70 125.16 L607.45 125.33 L607.20 125.49 L606.95 125.66 L606.70 125.83 L606.45 126.00 L606.20 126.17 L605.95 126.35 L605.70 126.52 L605.45 126.70 L605.20 126.88 L604.95 127.07 L604.70 127.26 L604.45 127.45 L604.20 127.64 L603.95 127.84 L603.70 128.04 L603.45 128.25 L603.20 128.46 L602.95 128.67 L602.70 128.89 L602.45 129.11 L602.20 129.34 L601.95 129.56 L601.70 129.80 L601.45 130.03 L601.20 130.27 L600.95 130.51 L600.70 130.75 L600.45 131.00 L600.20 131.25 L599.95 131.51 L599.70 131.76 L599.45 132.02 L599.20 132.29 L598.95 132.55 L598.70 132.82 L598.45 133.09 L598.20 133.36 L597.95 133.64 L597.70 133.91 L597.45 134.19 L597.20 134.47 L596.95 134.76 L596.70 135.04 L596.45 135.33 L596.20 135.62 L595.95 135.91 L595.70 136.20 L595.45 136.50 L595.20 136.79 L594.95 137.09 L594.70 137.39 L594.45 137.69 L594.20 137.99 L593.95 138.30 L593.70 138.60 L593.45 138.90 L593.20 139.21 L592.95 139.52 L592.70 139.82 L592.45 140.13 L592.20 140.44 L591.95 140.75 L591.70 141.06 L591.45 141.36 L591.20 141.67 L590.95 141.97 L590.70 142.28 L590.45 142.58 L590.20 142.88 L589.95 143.18 L589.70 143.49 L589.45 143.79 L589.20 144.10 L588.95 144.41 L588.70 144.72 L588.45 145.03 L588.20 145.35 L587.95 145.67 L587.70 146.00 L587.45 146.33 L587.20 146.67 L586.95 147.01 L586.70 147.36 L586.45 147.72 L586.20 148.08 L585.95 148.45 L585.70 148.83 L585.45 149.22 L585.20 149.61 L584.95 150.02 L584.70 150.43 L584.45 150.86 L584.20 151.29 L583.95 151.74 L583.70 152.20 L583.45 152.67 L583.20 153.15 L582.95 153.66 L582.70 154.22 L582.45 154.82 L582.20 155.47 L581.95 156.15 L581.69 156.86 L581.38 157.60 L581.07 158.36 L580.76 159.13 L580.45 159.91 L580.13 160.70 L579.82 161.48 L579.51 162.26 L579.20 163.03 L578.89 163.78 L578.58 164.51 L578.27 165.21 L577.97 165.88 L577.67 166.52 L577.37 167.13 L577.07 167.72 L576.78 168.30 L576.48 168.85 L576.19 169.40 L575.89 169.94 L575.60 170.47 L575.31 171.01 L575.02 171.54 L574.72 172.09 L574.42 172.64 L574.12 173.21 L573.82 173.80 L573.51 174.41 L573.20 175.05 L572.89 175.72 L572.58 176.42 L572.26 177.15 L571.94 177.93 L571.62 178.75 L571.29 179.64 L570.95 180.61 L570.61 181.66 L570.26 182.79 L569.90 183.98 L569.54 185.24 L569.17 186.55 L568.80 187.91 L568.42 189.31 L568.04 190.75 L567.71 192.28 L567.51 193.94 L567.31 195.70 L567.11 197.54 L566.92 199.45 L566.72 201.39 L566.53 203.36 L566.33 205.36 L566.14 207.47 L565.95 209.65 L565.76 211.85 L565.57 214.05 L565.38 216.20 L565.20 218.27 L565.01 220.30 L564.82 222.30 L564.64 224.28 L564.45 226.24 L564.26 228.18 L564.07 230.11 L563.88 232.03 L563.69 233.94 L563.50 235.84 L563.31 237.74 L563.12 239.64 L562.93 241.54 L562.74 243.45 L562.55 245.37 L562.36 247.29 L562.17 249.23 L561.98 251.18 L561.76 253.15 L561.53 255.13 L561.30 257.10 L561.07 259.08 L560.84 261.05 L560.61 263.02 L560.38 265.00 L560.15 266.98 L559.92 268.97 L559.69 270.97 L559.46 272.98 L559.23 275.00 L559.00 277.03 L558.77 279.08 L558.54 281.15 L558.31 283.23 L558.09 285.34 L557.86 287.46 L557.63 289.61 L557.40 291.79 L557.17 293.98 L556.94 296.19 L556.72 298.43 L556.49 300.68 L556.26 302.95 L556.03 305.24 L555.81 307.55 L555.58 309.88 L555.35 312.22 L555.13 314.58 L554.90 316.95 L554.68 319.34 L554.45 321.75 L554.18 324.16 L553.90 326.55 L553.63 328.92 L553.35 331.28 L553.08 333.62 L552.81 335.95 L552.53 338.26 L552.26 340.55 L551.99 342.82 L551.72 345.07 L551.44 347.31 L551.17 349.52 L550.90 351.71 L550.63 353.89 L550.36 356.04 L550.09 358.16 L549.81 360.27 L549.54 362.35 L549.27 364.42 L549.00 366.47 L548.73 368.50 L548.46 370.52 L548.19 372.53 L547.92 374.53 L547.65 376.52 L547.38 378.50 L547.11 380.48 L546.84 382.45 L546.57 384.42 L546.30 386.40 L546.03 388.37 L545.76 390.35 L545.48 392.32 L545.17 394.27 L544.86 396.21 L544.55 398.13 L544.24 400.05 L543.93 401.96 L543.62 403.86 L543.31 405.76 L543.00 407.66 L542.69 409.56 L542.38 411.47 L542.07 413.39 L541.76 415.32 L541.45 417.26 L541.14 419.22 L540.82 421.20 L540.51 423.20 L540.20 425.23 L539.88 427.30 L539.57 429.45 L539.26 431.65 L538.95 433.85 L538.64 436.03 L538.33 438.14 L538.03 440.14 L537.72 442.11 L537.42 444.05 L537.11 445.96 L536.81 447.80 L536.51 449.56 L536.21 451.22 L536.00 452.75 L535.82 454.19 L535.64 455.59 L535.46 456.95 L535.28 458.26 L535.09 459.52 L534.90 460.71 L534.70 461.84 L534.51 462.89 L534.31 463.86 L534.10 464.75 L533.89 465.57 L533.68 466.35 L533.47 467.08 L533.25 467.78 L533.03 468.45 L532.82 469.09 L532.60 469.70 L532.38 470.29 L532.16 470.86 L531.93 471.41 L531.70 471.96 L531.46 472.49 L531.21 473.03 L530.97 473.56 L530.72 474.10 L530.48 474.65 L530.23 475.20 L529.99 475.78 L529.75 476.37 L529.50 476.98 L529.26 477.62 L529.02 478.29 L528.77 478.99 L528.53 479.72 L528.29 480.47 L528.04 481.24 L527.80 482.02 L527.56 482.80 L527.32 483.59 L527.08 484.37 L526.83 485.14 L526.59 485.90 L526.35 486.64 L526.11 487.35 L525.86 488.03 L525.62 488.68 L525.38 489.28 L525.13 489.84 L524.89 490.35 L524.64 490.83 L524.40 491.30 L524.15 491.76 L523.90 492.21 L523.66 492.64 L523.41 493.07 L523.17 493.48 L522.92 493.89 L522.68 494.28 L522.43 494.67 L522.18 495.05 L521.94 495.42 L521.69 495.78 L521.44 496.14 L521.20 496.49 L520.95 496.83 L520.70 497.17 L520.46 497.50 L520.21 497.83 L519.96 498.15 L519.72 498.47 L519.47 498.78 L519.22 499.09 L518.98 499.40 L518.73 499.71 L518.48 500.01 L518.24 500.32 L517.99 500.62 L517.74 500.92 L517.49 501.22 L517.25 501.53 L517.00 501.83 L516.75 502.14 L516.51 502.44 L516.26 502.75 L516.01 503.06 L515.77 503.37 L515.52 503.68 L515.27 503.98 L515.03 504.29 L514.78 504.60 L514.53 504.90 L514.28 505.20 L514.04 505.51 L513.79 505.81 L513.54 506.11 L513.30 506.41 L513.05 506.71 L512.80 507.00 L512.56 507.30 L512.31 507.59 L512.06 507.88 L511.81 508.17 L511.57 508.46 L511.32 508.74 L511.07 509.03 L510.83 509.31 L510.58 509.59 L510.33 509.86 L510.08 510.14 L509.84 510.41 L509.59 510.68 L509.34 510.95 L509.09 511.21 L508.85 511.48 L508.60 511.74 L508.35 511.99 L508.10 512.25 L507.86 512.50 L507.61 512.75 L507.36 512.99 L507.11 513.23 L506.87 513.47 L506.62 513.70 L506.37 513.94 L506.12 514.16 L505.88 514.39 L505.63 514.61 L505.38 514.83 L505.13 515.04 L504.89 515.25 L504.64 515.46 L504.39 515.66 L504.14 515.86 L503.89 516.05 L503.64 516.24 L503.40 516.43 L503.15 516.62 L502.90 516.80 L502.65 516.98 L502.40 517.15 L502.16 517.33 L501.91 517.50 L501.66 517.67 L501.41 517.84 L501.16 518.01 L500.91 518.17 L500.67 518.34 L500.42 518.50 L500.17 518.66 L499.92 518.82 L499.67 518.98 L499.42 519.14 L499.18 519.30 L498.93 519.46 L498.68 519.62 L498.43 519.78 L498.18 519.94 L497.93 520.10 L497.69 520.26 L497.44 520.42 L497.19 520.58 L496.94 520.74 L496.69 520.91 L496.44 521.07 L496.19 521.23 L495.95 521.39 L495.70 521.55 L495.45 521.71 L495.21 521.87 L494.98 522.03 L494.74 522.19 L494.51 522.34 L494.28 522.50 L494.04 522.66 L493.81 522.81 L493.57 522.97 L490.82 524.73 L488.06 526.38 L485.29 527.92 L482.51 529.41 L479.73 530.86 L476.95 532.31 L474.16 533.71 L471.37 535.06 L468.57 536.30 L465.69 537.45 L462.76 538.56 L459.84 539.67 L456.91 540.82 L453.99 541.97 L451.06 543.09 L448.13 544.15 L445.21 545.18 L442.28 546.18 L439.36 547.14 L436.43 548.06 L433.50 548.95 L430.58 549.80 L427.65 550.61 L424.72 551.39 L421.80 552.14 L418.87 552.86 L415.95 553.57 L413.02 554.25 L410.09 554.87 L407.17 555.43 L404.24 555.97 L401.32 556.50 L398.39 557.04 L395.46 557.58 L392.54 558.11 L389.61 558.65 L386.69 559.18 L383.76 559.72 L380.83 560.26 L377.91 560.81 L374.98 561.36 L372.06 561.92 L369.13 562.48 L366.20 563.03 L363.28 563.58 L360.35 564.12 L357.43 564.67 L354.50 565.21 L351.57 565.75 L348.65 566.28 L345.72 566.80 L342.80 567.29 L339.87 567.75 L336.94 568.18 L334.02 568.59 L331.09 568.99 L328.17 569.40 L325.24 569.79 L322.31 570.18 L319.39 570.57 L316.46 570.95 L313.53 571.34 L310.61 571.72 L307.68 572.10 L304.76 572.48 L301.83 572.85 L298.90 573.23 L295.98 573.60 L293.05 573.97 L290.13 574.33 L287.20 574.69 L284.27 575.05 L281.35 575.41 L278.42 575.75 L275.50 576.09 L272.57 576.40 L269.64 576.70 L266.72 576.96 L263.79 577.21 L260.87 577.47 L257.94 577.73 L255.01 578.00 L252.09 578.27 L249.16 578.54 L246.24 578.82 L243.31 579.08 L240.38 579.35 L237.46 579.61 L234.53 579.87 L231.61 580.13 L228.68 580.39 L225.75 580.64 L222.83 580.88 L219.90 581.12 L216.98 581.34 L214.05 581.55 L211.12 581.76 L208.20 581.96 L205.27 582.17 L202.34 582.37 L199.42 582.57 L196.49 582.79 L193.57 583.00 L190.64 583.21 L187.71 583.40 L184.79 583.56 L181.86 583.71 L178.94 583.86 L176.01 583.99 L173.08 584.09 L170.16 584.15 L167.23 584.17 L164.31 584.19 L161.38 584.21 L158.45 584.22 L155.53 584.23 L152.60 584.24 L149.68 584.25 L146.75 584.25 L146.75 584.25 L149.68 584.25 L152.60 584.24 L155.53 584.23 L158.45 584.22 L161.38 584.21 L164.31 584.19 L167.23 584.17 L170.16 584.15 L173.08 584.09 L176.01 583.99 L178.94 583.86 L181.86 583.71 L184.79 583.56 L187.71 583.40 L190.64 583.21 L193.57 583.00 L196.49 582.79 L199.42 582.57 L202.34 582.37 L205.27 582.17 L208.20 581.96 L211.12 581.76 L214.05 581.55 L216.98 581.34 L219.90 581.12 L222.83 580.88 L225.75 580.64 L228.68 580.39 L231.61 580.13 L234.53 579.87 L237.46 579.61 L240.38 579.35 L243.31 579.08 L246.24 578.82 L249.16 578.54 L252.09 578.27 L255.01 578.00 L257.94 577.73 L260.87 577.47 L263.79 577.21 L266.72 576.96 L269.64 576.70 L272.57 576.40 L275.50 576.09 L278.42 575.75 L281.35 575.41 L284.27 575.05 L287.20 574.69 L290.13 574.33 L293.05 573.97 L295.98 573.60 L298.90 573.23 L301.83 572.85 L304.76 572.48 L307.68 572.10 L310.61 571.72 L313.53 571.34 L316.46 570.95 L319.39 570.57 L322.31 570.18 L325.24 569.79 L328.17 569.40 L331.09 568.99 L334.02 568.59 L336.94 568.18 L339.87 567.75 L342.80 567.29 L345.72 566.80 L348.65 566.28 L351.57 565.75 L354.50 565.21 L357.43 564.67 L360.35 564.12 L363.28 563.58 L366.20 563.03 L369.13 562.48 L372.06 561.92 L374.98 561.36 L377.91 560.81 L380.83 560.26 L383.76 559.72 L386.69 559.18 L389.61 558.65 L392.54 558.11 L395.46 557.58 L398.39 557.04 L401.32 556.50 L404.24 555.97 L407.17 555.43 L410.09 554.87 L413.02 554.25 L415.95 553.57 L418.87 552.86 L421.80 552.14 L424.72 551.39 L427.65 550.61 L430.58 549.80 L433.50 548.95 L436.43 548.06 L439.36 547.14 L442.28 546.18 L445.21 545.18 L448.13 544.15 L451.06 543.09 L453.99 541.97 L456.91 540.82 L459.84 539.67 L462.76 538.56 L465.69 537.45 L468.66 536.30 L471.71 535.06 L474.77 533.71 L477.84 532.31 L480.91 530.86 L483.98 529.41 L487.05 527.92 L490.14 526.38 L493.23 524.73 L496.33 522.97 L496.59 522.81 L496.86 522.66 L497.12 522.50 L497.39 522.34 L497.66 522.19 L497.92 522.03 L498.19 521.87 L498.45 521.71 L498.70 521.55 L498.95 521.39 L499.21 521.23 L499.46 521.07 L499.71 520.91 L499.96 520.74 L500.21 520.58 L500.46 520.42 L500.71 520.26 L500.97 520.10 L501.22 519.94 L501.47 519.78 L501.72 519.62 L501.97 519.46 L502.22 519.30 L502.48 519.14 L502.73 518.98 L502.98 518.82 L503.23 518.66 L503.48 518.50 L503.73 518.34 L503.99 518.17 L504.24 518.01 L504.49 517.84 L504.74 517.67 L504.99 517.50 L505.24 517.33 L505.50 517.15 L505.75 516.98 L506.00 516.80 L506.25 516.62 L506.50 516.43 L506.76 516.24 L507.01 516.05 L507.26 515.86 L507.51 515.66 L507.76 515.46 L508.02 515.25 L508.27 515.04 L508.52 514.83 L508.77 514.61 L509.02 514.39 L509.28 514.16 L509.53 513.94 L509.78 513.70 L510.03 513.47 L510.29 513.23 L510.54 512.99 L510.79 512.75 L511.04 512.50 L511.30 512.25 L511.55 511.99 L511.80 511.74 L512.05 511.48 L512.31 511.21 L512.56 510.95 L512.81 510.68 L513.06 510.41 L513.32 510.14 L513.57 509.86 L513.82 509.59 L514.07 509.31 L514.33 509.03 L514.58 508.74 L514.83 508.46 L515.09 508.17 L515.34 507.88 L515.59 507.59 L515.84 507.30 L516.10 507.00 L516.35 506.71 L516.60 506.41 L516.86 506.11 L517.11 505.81 L517.36 505.51 L517.62 505.20 L517.87 504.90 L518.12 504.60 L518.37 504.29 L518.63 503.98 L518.88 503.68 L519.13 503.37 L519.39 503.06 L519.64 502.75 L519.89 502.44 L520.15 502.14 L520.40 501.83 L520.65 501.53 L520.91 501.22 L521.16 500.92 L521.41 500.62 L521.66 500.32 L521.92 500.01 L522.17 499.71 L522.42 499.40 L522.68 499.09 L522.93 498.78 L523.18 498.47 L523.44 498.15 L523.69 497.83 L523.94 497.50 L524.20 497.17 L524.45 496.83 L524.70 496.49 L524.96 496.14 L525.21 495.78 L525.46 495.42 L525.72 495.05 L525.97 494.67 L526.22 494.28 L526.48 493.89 L526.73 493.48 L526.99 493.07 L527.24 492.64 L527.50 492.21 L527.75 491.76 L528.00 491.30 L528.26 490.83 L528.51 490.35 L528.77 489.84 L529.02 489.28 L529.28 488.68 L529.54 488.03 L529.79 487.35 L530.05 486.64 L530.31 485.90 L530.57 485.14 L530.82 484.37 L531.08 483.59 L531.34 482.80 L531.60 482.02 L531.86 481.24 L532.11 480.47 L532.37 479.72 L532.63 478.99 L532.88 478.29 L533.14 477.62 L533.40 476.98 L533.65 476.37 L533.91 475.78 L534.17 475.20 L534.42 474.65 L534.68 474.10 L534.93 473.56 L535.19 473.03 L535.44 472.49 L535.70 471.96 L535.97 471.41 L536.24 470.86 L536.52 470.29 L536.80 469.70 L537.08 469.09 L537.37 468.45 L537.65 467.78 L537.93 467.08 L538.22 466.35 L538.51 465.57 L538.80 464.75 L539.09 463.86 L539.39 462.89 L539.70 461.84 L540.00 460.71 L540.31 459.52 L540.62 458.26 L540.94 456.95 L541.26 455.59 L541.58 454.19 L541.90 452.75 L542.19 451.22 L542.39 449.56 L542.59 447.80 L542.79 445.96 L542.98 444.05 L543.18 442.11 L543.37 440.14 L543.57 438.14 L543.76 436.03 L543.95 433.85 L544.14 431.65 L544.33 429.45 L544.52 427.30 L544.70 425.23 L544.89 423.20 L545.08 421.20 L545.26 419.22 L545.45 417.26 L545.64 415.32 L545.83 413.39 L546.02 411.47 L546.21 409.56 L546.40 407.66 L546.59 405.76 L546.78 403.86 L546.97 401.96 L547.16 400.05 L547.35 398.13 L547.54 396.21 L547.73 394.27 L547.92 392.32 L548.14 390.35 L548.37 388.37 L548.60 386.40 L548.83 384.42 L549.06 382.45 L549.29 380.48 L549.52 378.50 L549.75 376.52 L549.98 374.53 L550.21 372.53 L550.44 370.52 L550.67 368.50 L550.90 366.47 L551.13 364.42 L551.36 362.35 L551.59 360.27 L551.81 358.16 L552.04 356.04 L552.27 353.89 L552.50 351.71 L552.73 349.52 L552.96 347.31 L553.18 345.07 L553.41 342.82 L553.64 340.55 L553.87 338.26 L554.09 335.95 L554.32 333.62 L554.55 331.28 L554.77 328.92 L555.00 326.55 L555.22 324.16 L555.45 321.75 L555.72 319.34 L556.00 316.95 L556.27 314.58 L556.55 312.22 L556.82 309.88 L557.09 307.55 L557.37 305.24 L557.64 302.95 L557.91 300.68 L558.18 298.43 L558.46 296.19 L558.73 293.98 L559.00 291.79 L559.27 289.61 L559.54 287.46 L559.81 285.34 L560.09 283.23 L560.36 281.15 L560.63 279.08 L560.90 277.03 L561.17 275.00 L561.44 272.98 L561.71 270.97 L561.98 268.97 L562.25 266.98 L562.52 265.00 L562.79 263.02 L563.06 261.05 L563.33 259.08 L563.60 257.10 L563.87 255.13 L564.14 253.15 L564.42 251.18 L564.73 249.23 L565.04 247.29 L565.35 245.37 L565.66 243.45 L565.97 241.54 L566.28 239.64 L566.59 237.74 L566.90 235.84 L567.21 233.94 L567.52 232.03 L567.83 230.11 L568.14 228.18 L568.45 226.24 L568.76 224.28 L569.08 222.30 L569.39 220.30 L569.70 218.27 L570.02 216.20 L570.33 214.05 L570.64 211.85 L570.95 209.65 L571.26 207.47 L571.57 205.36 L571.87 203.36 L572.18 201.39 L572.48 199.45 L572.79 197.54 L573.09 195.70 L573.39 193.94 L573.69 192.28 L573.86 190.75 L573.98 189.31 L574.10 187.91 L574.23 186.55 L574.36 185.24 L574.50 183.98 L574.64 182.79 L574.79 181.66 L574.95 180.61 L575.11 179.64 L575.28 178.75 L575.46 177.93 L575.64 177.15 L575.82 176.42 L576.01 175.72 L576.20 175.05 L576.39 174.41 L576.58 173.80 L576.78 173.21 L576.98 172.64 L577.18 172.09 L577.38 171.54 L577.59 171.01 L577.80 170.47 L578.01 169.94 L578.21 169.40 L578.42 168.85 L578.62 168.30 L578.83 167.72 L579.03 167.13 L579.23 166.52 L579.43 165.88 L579.63 165.21 L579.82 164.51 L580.01 163.78 L580.20 163.03 L580.39 162.26 L580.58 161.48 L580.77 160.70 L580.95 159.91 L581.14 159.13 L581.33 158.36 L581.52 157.60 L581.71 156.86 L581.95 156.15 L582.20 155.47 L582.45 154.82 L582.70 154.22 L582.95 153.66 L583.20 153.15 L583.45 152.67 L583.70 152.20 L583.95 151.74 L584.20 151.29 L584.45 150.86 L584.70 150.43 L584.95 150.02 L585.20 149.61 L585.45 149.22 L585.70 148.83 L585.95 148.45 L586.20 148.08 L586.45 147.72 L586.70 147.36 L586.95 147.01 L587.20 146.67 L587.45 146.33 L587.70 146.00 L587.95 145.67 L588.20 145.35 L588.45 145.03 L588.70 144.72 L588.95 144.41 L589.20 144.10 L589.45 143.79 L589.70 143.49 L589.95 143.18 L590.20 142.88 L590.45 142.58 L590.70 142.28 L590.95 141.97 L591.20 141.67 L591.45 141.36 L591.70 141.06 L591.95 140.75 L592.20 140.44 L592.45 140.13 L592.70 139.82 L592.95 139.52 L593.20 139.21 L593.45 138.90 L593.70 138.60 L593.95 138.30 L594.20 137.99 L594.45 137.69 L594.70 137.39 L594.95 137.09 L595.20 136.79 L595.45 136.50 L595.70 136.20 L595.95 135.91 L596.20 135.62 L596.45 135.33 L596.70 135.04 L596.95 134.76 L597.20 134.47 L597.45 134.19 L597.70 133.91 L597.95 133.64 L598.20 133.36 L598.45 133.09 L598.70 132.82 L598.95 132.55 L599.20 132.29 L599.45 132.02 L599.70 131.76 L599.95 131.51 L600.20 131.25 L600.45 131.00 L600.70 130.75 L600.95 130.51 L601.20 130.27 L601.45 130.03 L601.70 129.80 L601.95 129.56 L602.20 129.34 L602.45 129.11 L602.70 128.89 L602.95 128.67 L603.20 128.46 L603.45 128.25 L603.70 128.04 L603.95 127.84 L604.20 127.64 L604.45 127.45 L604.70 127.26 L604.95 127.07 L605.20 126.88 L605.45 126.70 L605.70 126.52 L605.95 126.35 L606.20 126.17 L606.45 126.00 L606.70 125.83 L606.95 125.66 L607.20 125.49 L607.45 125.33 L607.70 125.16 L607.95 125.00 L608.20 124.84 L608.45 124.68 L608.70 124.52 L608.95 124.36 L609.20 124.20 L609.45 124.04 L609.70 123.88 L609.95 123.72 L610.20 123.56 L610.45 123.40 L610.70 123.24 L610.95 123.08 L611.20 122.92 L611.45 122.76 L611.70 122.59 L611.95 122.43 L612.20 122.27 L612.45 122.11 L612.70 121.95 L612.95 121.79 L613.20 121.63 L613.45 121.47 L613.70 121.31 L613.95 121.16 L614.20 121.00 L614.45 120.84 L614.70 120.69 L614.95 120.53 L617.88 118.77 L620.80 117.12 L623.73 115.58 L626.65 114.09 L629.58 112.64 L632.51 111.19 L635.43 109.79 L638.36 108.44 L641.28 107.20 L644.21 106.05 L647.14 104.94 L650.06 103.83 L652.99 102.68 L655.91 101.53 L658.84 100.41 L661.77 99.35 L664.69 98.32 L667.62 97.32 L670.54 96.36 L673.47 95.44 L676.40 94.55 L679.32 93.70 L682.25 92.89 L685.18 92.11 L688.10 91.36 L691.03 90.64 L693.95 89.93 L696.88 89.25 L699.81 88.63 L702.73 88.07 L705.66 87.53 L708.58 87.00 L711.51 86.46 L714.44 85.92 L717.36 85.39 L720.29 84.85 L723.21 84.32 L726.14 83.78 L729.07 83.24 L731.99 82.69 L734.92 82.14 L737.84 81.58 L740.77 81.02 L743.70 80.47 L746.62 79.92 L749.55 79.38 L752.47 78.83 L755.40 78.29 L758.33 77.75 L761.25 77.22 L764.18 76.70 L767.10 76.21 L770.03 75.75 L772.96 75.32 L775.88 74.91 L778.81 74.51 L781.73 74.10 L784.66 73.71 L787.59 73.32 L790.51 72.93 L793.44 72.55 L796.37 72.16 L799.29 71.78 L802.22 71.40 L805.14 71.02 L808.07 70.65 L811.00 70.27 L813.92 69.90 L816.85 69.53 L819.77 69.17 L822.70 68.81 L825.63 68.45 L828.55 68.09 L831.48 67.75 L834.40 67.41 L837.33 67.10 L840.26 66.80 L843.18 66.54 L846.11 66.29 L849.03 66.03 L851.96 65.77 L854.89 65.50 L857.81 65.23 L860.74 64.96 L863.66 64.68 L866.59 64.42 L869.52 64.15 L872.44 63.89 L875.37 63.63 L878.29 63.37 L881.22 63.11 L884.15 62.86 L887.07 62.62 L890.00 62.38 L892.92 62.16 L895.85 61.95 L898.78 61.74 L901.70 61.54 L904.63 61.33 L907.56 61.13 L910.48 60.93 L913.41 60.71 L916.33 60.50 L919.26 60.29 L922.19 60.10 L925.11 59.94 L928.04 59.79 L930.96 59.64 L933.89 59.51 L936.82 59.41 L939.74 59.35 L942.67 59.33 L945.59 59.31 L948.52 59.29 L951.45 59.28 L954.37 59.27 L957.30 59.26 L960.22 59.25 L963.15 59.25"/>
</g>
<g stroke="#000" stroke-width="2.9" fill="none" stroke-linecap="square">
<rect x="146.8" y="11.7" width="816.3" height="598.8"/>
<line x1="136.9" y1="568.80" x2="146.8" y2="568.80" stroke-linecap="round"/>
<line x1="136.9" y1="507.90" x2="146.8" y2="507.90" stroke-linecap="round"/>
<line x1="136.9" y1="445.70" x2="146.8" y2="445.70" stroke-linecap="round"/>
<line x1="136.9" y1="383.70" x2="146.8" y2="383.70" stroke-linecap="round"/>
<line x1="136.9" y1="321.70" x2="146.8" y2="321.70" stroke-linecap="round"/>
<line x1="136.9" y1="259.50" x2="146.8" y2="259.50" stroke-linecap="round"/>
<line x1="136.9" y1="198.40" x2="146.8" y2="198.40" stroke-linecap="round"/>
<line x1="136.9" y1="136.40" x2="146.8" y2="136.40" stroke-linecap="round"/>
<line x1="136.9" y1="74.20" x2="146.8" y2="74.20" stroke-linecap="round"/>
<line x1="136.9" y1="11.70" x2="146.8" y2="11.70" stroke-linecap="round"/>
<line x1="146.80" y1="610.5" x2="146.80" y2="621.8" stroke-linecap="round"/>
<line x1="250.00" y1="610.5" x2="250.00" y2="621.8" stroke-linecap="round"/>
<line x1="351.50" y1="610.5" x2="351.50" y2="621.8" stroke-linecap="round"/>
<line x1="453.50" y1="610.5" x2="453.50" y2="621.8" stroke-linecap="round"/>
<line x1="554.70" y1="610.5" x2="554.70" y2="621.8" stroke-linecap="round"/>
<line x1="656.70" y1="610.5" x2="656.70" y2="621.8" stroke-linecap="round"/>
<line x1="759.40" y1="610.5" x2="759.40" y2="621.8" stroke-linecap="round"/>
<line x1="861.50" y1="610.5" x2="861.50" y2="621.8" stroke-linecap="round"/>
<line x1="963.10" y1="610.5" x2="963.10" y2="621.8" stroke-linecap="round"/>
</g>
<g class="s" font-size="22.4" fill="#000" stroke="#000" stroke-width="0.55" letter-spacing="0.9" text-anchor="end">
<text x="127" y="574.90">-120</text>
<text x="127" y="514.00">-90</text>
<text x="127" y="451.80">-60</text>
<text x="127" y="389.80">-30</text>
<text x="127" y="327.80">0</text>
<text x="127" y="265.60">30</text>
<text x="127" y="204.50">60</text>
<text x="127" y="142.50">90</text>
<text x="127" y="80.30">120</text>
<text x="127" y="17.80">150</text>
</g>
<g class="s" font-size="22.4" fill="#000" stroke="#000" stroke-width="0.55" letter-spacing="0.9" text-anchor="middle">
<text x="146.80" y="648.9">-20000</text>
<text x="248.84" y="648.9">-15000</text>
<text x="350.88" y="648.9">-10000</text>
<text x="452.91" y="648.9">-5000</text>
<text x="554.95" y="648.9">0</text>
<text x="656.99" y="648.9">5000</text>
<text x="759.03" y="648.9">10000</text>
<text x="861.06" y="648.9">15000</text>
<text x="963.10" y="648.9">20000</text>
</g>
<text class="r" x="553.5" y="704.7" font-size="37.2" text-anchor="middle">Magnetic Field (Oe)</text>
<text class="r" transform="translate(29,294.3) rotate(-90)" x="0" y="0" font-size="38.5" letter-spacing="-0.3" text-anchor="middle">Magnetic Moment (emu/g)</text>
<text class="r" x="665" y="46.2" font-size="30" letter-spacing="1">Co-precipitation</text>
<g stroke-width="5.9" stroke-linecap="round">
<line x1="182" y1="46.5" x2="249" y2="46.5" stroke="#000000"/>
<line x1="182" y1="83.0" x2="249" y2="83.0" stroke="#ff0000"/>
<line x1="182" y1="120.0" x2="249" y2="120.0" stroke="#0000ff"/>
<line x1="182" y1="156.5" x2="249" y2="156.5" stroke="#ff00ff"/>
<line x1="182" y1="193.0" x2="249" y2="193.0" stroke="#008000"/>
</g>
<g class="r" font-size="26.2" fill="#000">
<text x="261" y="56.3">X= 0.0</text>
<text x="261" y="92.8">X= 0.1</text>
<text x="261" y="129.8">X= 0.2</text>
<text x="261" y="166.3">X= 0.3</text>
<text x="261" y="202.8">X= 0.4</text>
</g>
</svg></div>
</body></html>
